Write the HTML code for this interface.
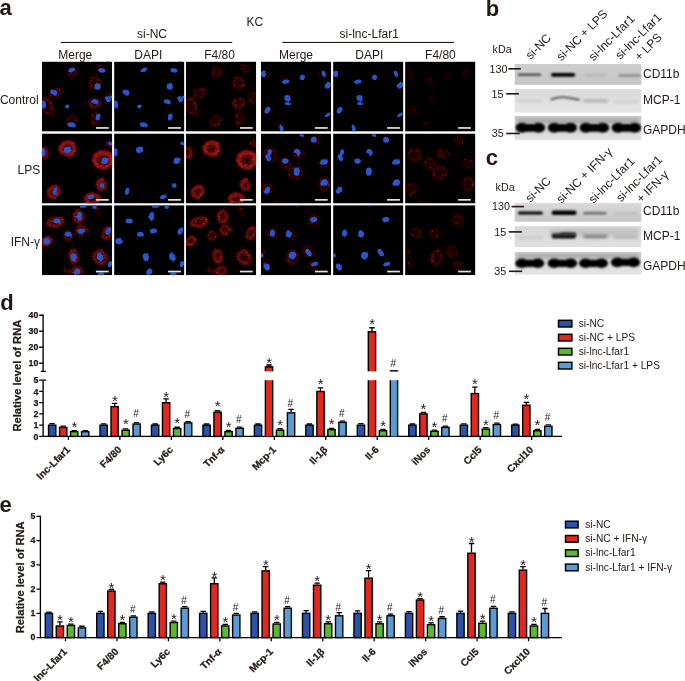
<!DOCTYPE html>
<html><head><meta charset="utf-8"><title>Figure</title>
<style>html,body{margin:0;padding:0;background:#fff}svg{display:block}text{font-family:"Liberation Sans",sans-serif;fill:#231815}.b{font-weight:bold}.pl{font-size:22px;font-weight:bold}.h{font-size:12px}.w{font-size:10.7px}.lg{font-size:10.2px}.tk{font-size:8.8px;font-weight:bold}.xl{font-size:10px;font-weight:bold}.tk,.xl,.yl{stroke:#231815;stroke-width:0.25px}.yl{font-size:11.2px;font-weight:bold}.st{font-size:15px}.hs{font-size:10px}</style></head><body>
<svg width="685" height="681" viewBox="0 0 685 681">
<rect width="685" height="681" fill="#fff"/>
<defs>
<filter id="bl" x="-30%" y="-30%" width="160%" height="160%"><feTurbulence type="fractalNoise" baseFrequency="0.11" numOctaves="2" seed="3" result="t"/><feDisplacementMap in="SourceGraphic" in2="t" scale="2.6" xChannelSelector="R" yChannelSelector="G"/><feGaussianBlur stdDeviation="0.4"/></filter>
<filter id="br" x="-30%" y="-30%" width="160%" height="160%"><feTurbulence type="fractalNoise" baseFrequency="0.09" numOctaves="2" seed="11" result="t"/><feDisplacementMap in="SourceGraphic" in2="t" scale="4.5" xChannelSelector="R" yChannelSelector="G"/><feGaussianBlur stdDeviation="0.85"/></filter>
<filter id="bd" x="-30%" y="-30%" width="160%" height="160%"><feGaussianBlur stdDeviation="0.35"/></filter>
<filter id="bb" x="-20%" y="-60%" width="140%" height="220%"><feGaussianBlur stdDeviation="0.9"/></filter>
<filter id="bb2" x="-20%" y="-60%" width="140%" height="220%"><feGaussianBlur stdDeviation="1.4"/></filter>
<radialGradient id="ring"><stop offset="0" stop-color="#a01414" stop-opacity="0.2"/><stop offset="0.35" stop-color="#a81414" stop-opacity="0.4"/><stop offset="0.72" stop-color="#b8181a" stop-opacity="0.8"/><stop offset="0.88" stop-color="#a81414" stop-opacity="0.45"/><stop offset="1" stop-color="#800c0c" stop-opacity="0"/></radialGradient>
<radialGradient id="soft"><stop offset="0" stop-color="#a01212" stop-opacity="0.75"/><stop offset="0.6" stop-color="#981010" stop-opacity="0.6"/><stop offset="1" stop-color="#800808" stop-opacity="0"/></radialGradient>
<clipPath id="cp"><rect x="0" y="0" width="70.3" height="70"/></clipPath>
<g id="n1" filter="url(#bl)" fill="#2a56cc"><ellipse cx="29.8" cy="8.8" rx="3.6" ry="2.4" transform="rotate(-30 29.8 8.8)"/><ellipse cx="59.9" cy="8.8" rx="3.6" ry="2.2" transform="rotate(10 59.9 8.8)"/><ellipse cx="55.7" cy="25.1" rx="3.1" ry="3.0" transform="rotate(0 55.7 25.1)"/><ellipse cx="11.9" cy="30.5" rx="3.6" ry="2.4" transform="rotate(15 11.9 30.5)"/><ellipse cx="65.5" cy="37.7" rx="2.6" ry="3.2" transform="rotate(-10 65.5 37.7)"/><ellipse cx="68.9" cy="35.4" rx="1.5" ry="1.8" transform="rotate(0 68.9 35.4)"/><ellipse cx="53.2" cy="40.2" rx="3.6" ry="2.4" transform="rotate(20 53.2 40.2)"/><ellipse cx="1.8" cy="43.0" rx="2.4" ry="4.0" transform="rotate(-10 1.8 43.0)"/><ellipse cx="25.1" cy="45.0" rx="2.6" ry="1.8" transform="rotate(-30 25.1 45.0)"/><ellipse cx="56.1" cy="55.0" rx="2.2" ry="4.0" transform="rotate(15 56.1 55.0)"/><ellipse cx="29.1" cy="63.0" rx="3.6" ry="2.4" transform="rotate(5 29.1 63.0)"/><ellipse cx="65.5" cy="0.0" rx="1.6" ry="0.9" transform="rotate(0 65.5 0.0)"/></g>
<g id="r1"><g filter="url(#br)"><ellipse cx="31.1" cy="10.0" rx="6.7" ry="6.2" transform="rotate(0 31.1 10.0)" fill="url(#ring)" opacity="0.35"/><ellipse cx="31.1" cy="10.0" rx="4.8" ry="4.4" transform="rotate(0 31.1 10.0)" fill="none" stroke="#d01c1e" stroke-width="1.38" opacity="0.10"/><ellipse cx="59.4" cy="7.0" rx="5.6" ry="5.0" transform="rotate(0 59.4 7.0)" fill="url(#ring)" opacity="0.29"/><ellipse cx="59.4" cy="7.0" rx="4.0" ry="3.6" transform="rotate(0 59.4 7.0)" fill="none" stroke="#d01c1e" stroke-width="1.12" opacity="0.09"/><ellipse cx="53.1" cy="21.5" rx="7.3" ry="7.8" transform="rotate(0 53.1 21.5)" fill="url(#ring)" opacity="0.37"/><ellipse cx="53.1" cy="21.5" rx="5.2" ry="5.6" transform="rotate(0 53.1 21.5)" fill="none" stroke="#d01c1e" stroke-width="1.62" opacity="0.11"/><ellipse cx="12.9" cy="31.4" rx="7.8" ry="6.7" transform="rotate(0 12.9 31.4)" fill="url(#ring)" opacity="0.35"/><ellipse cx="12.9" cy="31.4" rx="5.6" ry="4.8" transform="rotate(0 12.9 31.4)" fill="none" stroke="#d01c1e" stroke-width="1.50" opacity="0.10"/><ellipse cx="52.5" cy="41.4" rx="7.8" ry="6.2" transform="rotate(0 52.5 41.4)" fill="url(#ring)" opacity="0.44"/><ellipse cx="52.5" cy="41.4" rx="5.6" ry="4.4" transform="rotate(0 52.5 41.4)" fill="none" stroke="#d01c1e" stroke-width="1.38" opacity="0.13"/><ellipse cx="65.7" cy="36.0" rx="5.0" ry="6.7" transform="rotate(0 65.7 36.0)" fill="url(#ring)" opacity="0.29"/><ellipse cx="65.7" cy="36.0" rx="3.6" ry="4.8" transform="rotate(0 65.7 36.0)" fill="none" stroke="#d01c1e" stroke-width="1.12" opacity="0.09"/><ellipse cx="5.4" cy="44.0" rx="6.7" ry="10.1" transform="rotate(-20 5.4 44.0)" fill="url(#ring)" opacity="0.35"/><ellipse cx="5.4" cy="44.0" rx="4.8" ry="7.2" transform="rotate(-20 5.4 44.0)" fill="none" stroke="#d01c1e" stroke-width="1.50" opacity="0.10"/><ellipse cx="29.9" cy="59.5" rx="6.7" ry="6.7" transform="rotate(0 29.9 59.5)" fill="url(#ring)" opacity="0.35"/><ellipse cx="29.9" cy="59.5" rx="4.8" ry="4.8" transform="rotate(0 29.9 59.5)" fill="none" stroke="#d01c1e" stroke-width="1.50" opacity="0.10"/><ellipse cx="53.7" cy="57.0" rx="5.0" ry="8.4" transform="rotate(10 53.7 57.0)" fill="url(#ring)" opacity="0.35"/><ellipse cx="53.7" cy="57.0" rx="3.6" ry="6.0" transform="rotate(10 53.7 57.0)" fill="none" stroke="#d01c1e" stroke-width="1.12" opacity="0.10"/><ellipse cx="12.9" cy="53.4" rx="3.4" ry="3.4" transform="rotate(0 12.9 53.4)" fill="url(#ring)" opacity="0.24"/><ellipse cx="12.9" cy="53.4" rx="2.4" ry="2.4" transform="rotate(0 12.9 53.4)" fill="none" stroke="#d01c1e" stroke-width="0.90" opacity="0.07"/><ellipse cx="19.8" cy="27.6" rx="2.8" ry="2.8" transform="rotate(0 19.8 27.6)" fill="url(#ring)" opacity="0.29"/><ellipse cx="19.8" cy="27.6" rx="2.0" ry="2.0" transform="rotate(0 19.8 27.6)" fill="none" stroke="#d01c1e" stroke-width="0.90" opacity="0.09"/></g><g filter="url(#bd)" fill="#d82020"><circle cx="29.7" cy="12.6" r="0.43" opacity="0.55"/><circle cx="27.4" cy="9.2" r="0.58" opacity="0.41"/><circle cx="35.0" cy="10.9" r="0.43" opacity="0.41"/><circle cx="26.5" cy="12.2" r="0.48" opacity="0.43"/><circle cx="27.2" cy="6.4" r="0.54" opacity="0.54"/><circle cx="33.9" cy="9.6" r="0.50" opacity="0.61"/><circle cx="33.0" cy="12.2" r="0.69" opacity="0.47"/><circle cx="33.0" cy="13.7" r="0.53" opacity="0.55"/><circle cx="57.1" cy="6.4" r="0.47" opacity="0.37"/><circle cx="58.0" cy="4.3" r="0.60" opacity="0.42"/><circle cx="56.5" cy="7.8" r="0.64" opacity="0.51"/><circle cx="59.5" cy="10.3" r="0.71" opacity="0.46"/><circle cx="59.0" cy="4.3" r="0.44" opacity="0.55"/><circle cx="48.4" cy="24.4" r="0.57" opacity="0.45"/><circle cx="58.0" cy="22.8" r="0.60" opacity="0.61"/><circle cx="55.9" cy="18.5" r="0.61" opacity="0.59"/><circle cx="49.2" cy="19.2" r="0.73" opacity="0.63"/><circle cx="48.1" cy="22.4" r="0.65" opacity="0.42"/><circle cx="49.4" cy="16.2" r="0.50" opacity="0.62"/><circle cx="49.3" cy="25.1" r="0.56" opacity="0.41"/><circle cx="54.7" cy="24.6" r="0.67" opacity="0.42"/><circle cx="55.7" cy="24.4" r="0.70" opacity="0.51"/><circle cx="56.9" cy="23.8" r="0.71" opacity="0.55"/><circle cx="15.5" cy="26.6" r="0.55" opacity="0.46"/><circle cx="9.0" cy="35.6" r="0.45" opacity="0.63"/><circle cx="14.7" cy="34.4" r="0.57" opacity="0.45"/><circle cx="9.5" cy="29.5" r="0.55" opacity="0.40"/><circle cx="9.4" cy="34.6" r="0.64" opacity="0.63"/><circle cx="7.6" cy="31.0" r="0.42" opacity="0.56"/><circle cx="17.6" cy="28.4" r="0.68" opacity="0.61"/><circle cx="9.4" cy="33.8" r="0.62" opacity="0.42"/><circle cx="55.6" cy="42.4" r="0.46" opacity="0.52"/><circle cx="50.7" cy="43.6" r="0.45" opacity="0.46"/><circle cx="56.1" cy="43.5" r="0.71" opacity="0.47"/><circle cx="49.7" cy="39.5" r="0.52" opacity="0.54"/><circle cx="50.1" cy="43.5" r="0.75" opacity="0.72"/><circle cx="47.8" cy="42.2" r="0.44" opacity="0.48"/><circle cx="50.3" cy="44.1" r="0.46" opacity="0.71"/><circle cx="58.9" cy="42.1" r="0.45" opacity="0.62"/><circle cx="49.4" cy="40.7" r="0.74" opacity="0.62"/><circle cx="56.2" cy="38.1" r="0.53" opacity="0.54"/><circle cx="67.6" cy="40.3" r="0.67" opacity="0.46"/><circle cx="64.5" cy="39.0" r="0.74" opacity="0.52"/><circle cx="68.0" cy="31.9" r="0.66" opacity="0.52"/><circle cx="66.2" cy="40.2" r="0.41" opacity="0.43"/><circle cx="9.0" cy="43.7" r="0.64" opacity="0.46"/><circle cx="8.5" cy="41.1" r="0.75" opacity="0.62"/><circle cx="8.3" cy="41.3" r="0.48" opacity="0.45"/><circle cx="8.0" cy="48.0" r="0.72" opacity="0.55"/><circle cx="5.7" cy="38.3" r="0.68" opacity="0.55"/><circle cx="10.4" cy="46.0" r="0.67" opacity="0.62"/><circle cx="3.3" cy="38.2" r="0.68" opacity="0.44"/><circle cx="5.3" cy="51.1" r="0.54" opacity="0.63"/><circle cx="25.4" cy="62.7" r="0.46" opacity="0.57"/><circle cx="32.1" cy="61.8" r="0.68" opacity="0.62"/><circle cx="33.0" cy="63.6" r="0.63" opacity="0.64"/><circle cx="27.3" cy="63.0" r="0.40" opacity="0.43"/><circle cx="34.5" cy="58.7" r="0.73" opacity="0.52"/><circle cx="25.0" cy="61.6" r="0.47" opacity="0.60"/><circle cx="29.9" cy="63.1" r="0.61" opacity="0.45"/><circle cx="29.7" cy="63.5" r="0.72" opacity="0.43"/><circle cx="51.2" cy="60.7" r="0.72" opacity="0.54"/><circle cx="49.6" cy="59.6" r="0.59" opacity="0.52"/><circle cx="51.8" cy="56.1" r="0.46" opacity="0.50"/><circle cx="57.4" cy="57.8" r="0.57" opacity="0.44"/><circle cx="54.1" cy="51.6" r="0.58" opacity="0.47"/><circle cx="50.6" cy="54.3" r="0.60" opacity="0.42"/><circle cx="53.0" cy="61.4" r="0.58" opacity="0.58"/><circle cx="50.7" cy="54.1" r="0.56" opacity="0.62"/><circle cx="11.3" cy="52.0" r="0.64" opacity="0.40"/><circle cx="10.8" cy="54.0" r="0.73" opacity="0.40"/><circle cx="12.1" cy="50.9" r="0.49" opacity="0.48"/><circle cx="17.7" cy="26.8" r="0.45" opacity="0.52"/><circle cx="21.0" cy="28.8" r="0.48" opacity="0.37"/></g></g>
<g id="n2" filter="url(#bl)" fill="#2a56cc"><ellipse cx="25.6" cy="16.7" rx="3.7" ry="2.6" transform="rotate(-15 25.6 16.7)"/><ellipse cx="1.3" cy="18.8" rx="2.2" ry="4.0" transform="rotate(0 1.3 18.8)"/><ellipse cx="62.8" cy="27.2" rx="3.1" ry="3.3" transform="rotate(0 62.8 27.2)"/><ellipse cx="68.3" cy="10.0" rx="2.2" ry="1.7" transform="rotate(20 68.3 10.0)"/><ellipse cx="60.3" cy="51.5" rx="2.8" ry="2.6" transform="rotate(-40 60.3 51.5)"/><ellipse cx="13.0" cy="58.1" rx="2.1" ry="3.2" transform="rotate(10 13.0 58.1)"/><ellipse cx="49.2" cy="63.4" rx="3.3" ry="2.1" transform="rotate(-20 49.2 63.4)"/></g>
<g id="r2"><g filter="url(#br)"><ellipse cx="26.0" cy="14.8" rx="9.5" ry="9.0" transform="rotate(0 26.0 14.8)" fill="url(#ring)" opacity="0.97"/><ellipse cx="26.0" cy="14.8" rx="6.8" ry="6.4" transform="rotate(0 26.0 14.8)" fill="none" stroke="#d01c1e" stroke-width="2.00" opacity="0.48"/><ellipse cx="1.5" cy="18.8" rx="6.7" ry="6.7" transform="rotate(0 1.5 18.8)" fill="url(#ring)" opacity="0.71"/><ellipse cx="1.5" cy="18.8" rx="4.8" ry="4.8" transform="rotate(0 1.5 18.8)" fill="none" stroke="#d01c1e" stroke-width="1.50" opacity="0.35"/><ellipse cx="61.1" cy="26.4" rx="11.8" ry="11.2" transform="rotate(0 61.1 26.4)" fill="url(#ring)" opacity="0.91"/><ellipse cx="61.1" cy="26.4" rx="8.4" ry="8.0" transform="rotate(0 61.1 26.4)" fill="none" stroke="#d01c1e" stroke-width="2.50" opacity="0.46"/><ellipse cx="68.0" cy="10.5" rx="4.5" ry="5.0" transform="rotate(0 68.0 10.5)" fill="url(#soft)" opacity="0.50"/><ellipse cx="68.0" cy="10.5" rx="3.2" ry="3.6" transform="rotate(0 68.0 10.5)" fill="none" stroke="#d01c1e" stroke-width="1.00" opacity="0.15"/><ellipse cx="59.5" cy="50.8" rx="5.4" ry="7.3" transform="rotate(10 59.5 50.8)" fill="url(#ring)" opacity="1.00"/><ellipse cx="59.5" cy="50.8" rx="3.8" ry="5.2" transform="rotate(10 59.5 50.8)" fill="none" stroke="#d01c1e" stroke-width="1.20" opacity="0.50"/><ellipse cx="12.2" cy="58.4" rx="7.8" ry="7.8" transform="rotate(0 12.2 58.4)" fill="url(#ring)" opacity="0.97"/><ellipse cx="12.2" cy="58.4" rx="5.6" ry="5.6" transform="rotate(0 12.2 58.4)" fill="none" stroke="#d01c1e" stroke-width="1.75" opacity="0.48"/><ellipse cx="50.5" cy="65.2" rx="9.5" ry="6.2" transform="rotate(0 50.5 65.2)" fill="url(#ring)" opacity="0.97"/><ellipse cx="50.5" cy="65.2" rx="6.8" ry="4.4" transform="rotate(0 50.5 65.2)" fill="none" stroke="#d01c1e" stroke-width="1.38" opacity="0.48"/></g><g filter="url(#bd)" fill="#d82020"><circle cx="32.0" cy="17.6" r="0.71" opacity="0.95"/><circle cx="29.9" cy="20.1" r="0.45" opacity="0.95"/><circle cx="31.9" cy="9.8" r="0.73" opacity="0.95"/><circle cx="21.3" cy="18.1" r="0.69" opacity="0.95"/><circle cx="29.0" cy="19.3" r="0.52" opacity="0.95"/><circle cx="27.7" cy="19.4" r="0.41" opacity="0.95"/><circle cx="20.6" cy="13.0" r="0.52" opacity="0.84"/><circle cx="21.7" cy="10.8" r="0.74" opacity="0.87"/><circle cx="27.9" cy="7.5" r="0.49" opacity="0.90"/><circle cx="32.9" cy="16.5" r="0.45" opacity="0.95"/><circle cx="19.2" cy="18.2" r="0.49" opacity="0.95"/><circle cx="30.6" cy="20.7" r="0.65" opacity="0.95"/><circle cx="29.4" cy="16.8" r="0.55" opacity="0.95"/><circle cx="33.0" cy="18.0" r="0.68" opacity="0.95"/><circle cx="6.1" cy="21.4" r="0.70" opacity="0.68"/><circle cx="-2.1" cy="19.9" r="0.72" opacity="0.92"/><circle cx="1.2" cy="21.9" r="0.48" opacity="0.91"/><circle cx="4.0" cy="20.8" r="0.47" opacity="0.67"/><circle cx="0.1" cy="22.1" r="0.50" opacity="0.95"/><circle cx="55.4" cy="26.4" r="0.41" opacity="0.95"/><circle cx="61.1" cy="31.0" r="0.59" opacity="0.95"/><circle cx="63.8" cy="32.8" r="0.44" opacity="0.95"/><circle cx="64.0" cy="20.4" r="0.69" opacity="0.95"/><circle cx="55.3" cy="30.8" r="0.74" opacity="0.95"/><circle cx="56.1" cy="33.6" r="0.62" opacity="0.95"/><circle cx="55.7" cy="29.9" r="0.45" opacity="0.82"/><circle cx="68.9" cy="29.9" r="0.46" opacity="0.95"/><circle cx="69.0" cy="30.8" r="0.63" opacity="0.95"/><circle cx="59.9" cy="32.0" r="0.56" opacity="0.95"/><circle cx="65.0" cy="32.0" r="0.74" opacity="0.95"/><circle cx="68.6" cy="25.2" r="0.74" opacity="0.94"/><circle cx="58.7" cy="32.2" r="0.53" opacity="0.79"/><circle cx="53.8" cy="27.5" r="0.58" opacity="0.92"/><circle cx="67.2" cy="26.6" r="0.54" opacity="0.84"/><circle cx="65.8" cy="27.6" r="0.48" opacity="0.95"/><circle cx="54.7" cy="22.7" r="0.63" opacity="0.95"/><circle cx="59.1" cy="17.7" r="0.51" opacity="0.95"/><circle cx="66.6" cy="25.9" r="0.63" opacity="0.95"/><circle cx="69.9" cy="28.8" r="0.62" opacity="0.95"/><circle cx="67.7" cy="6.7" r="0.58" opacity="0.55"/><circle cx="64.5" cy="10.4" r="0.69" opacity="0.78"/><circle cx="64.9" cy="8.5" r="0.64" opacity="0.74"/><circle cx="68.2" cy="12.6" r="0.53" opacity="0.55"/><circle cx="62.1" cy="54.8" r="0.62" opacity="0.95"/><circle cx="57.5" cy="46.7" r="0.40" opacity="0.95"/><circle cx="61.5" cy="46.0" r="0.59" opacity="0.95"/><circle cx="58.7" cy="48.0" r="0.49" opacity="0.95"/><circle cx="61.7" cy="52.9" r="0.47" opacity="0.95"/><circle cx="60.3" cy="44.8" r="0.53" opacity="0.95"/><circle cx="55.7" cy="50.8" r="0.62" opacity="0.95"/><circle cx="58.5" cy="48.1" r="0.49" opacity="0.95"/><circle cx="12.0" cy="54.2" r="0.40" opacity="0.95"/><circle cx="16.0" cy="59.9" r="0.64" opacity="0.95"/><circle cx="10.3" cy="54.7" r="0.56" opacity="0.95"/><circle cx="8.7" cy="59.1" r="0.47" opacity="0.95"/><circle cx="18.6" cy="57.5" r="0.56" opacity="0.84"/><circle cx="15.0" cy="52.5" r="0.49" opacity="0.95"/><circle cx="13.8" cy="64.7" r="0.60" opacity="0.95"/><circle cx="15.3" cy="62.3" r="0.45" opacity="0.95"/><circle cx="14.3" cy="53.9" r="0.65" opacity="0.95"/><circle cx="12.9" cy="64.6" r="0.41" opacity="0.95"/><circle cx="17.1" cy="58.5" r="0.51" opacity="0.95"/><circle cx="15.0" cy="61.8" r="0.69" opacity="0.95"/><circle cx="18.0" cy="58.5" r="0.44" opacity="0.95"/><circle cx="17.3" cy="55.9" r="0.50" opacity="0.95"/><circle cx="46.7" cy="67.8" r="0.61" opacity="0.95"/><circle cx="46.9" cy="68.0" r="0.42" opacity="0.95"/><circle cx="56.4" cy="68.0" r="0.73" opacity="0.95"/><circle cx="50.5" cy="68.4" r="0.47" opacity="0.95"/><circle cx="45.0" cy="68.8" r="0.68" opacity="0.95"/><circle cx="45.3" cy="61.5" r="0.59" opacity="0.95"/><circle cx="49.7" cy="62.6" r="0.56" opacity="0.95"/><circle cx="50.6" cy="61.0" r="0.42" opacity="0.95"/><circle cx="54.4" cy="63.9" r="0.52" opacity="0.95"/><circle cx="48.4" cy="69.5" r="0.49" opacity="0.95"/></g></g>
<g id="n3" filter="url(#bl)" fill="#2a56cc"><ellipse cx="41.7" cy="1.0" rx="3.2" ry="1.5" transform="rotate(0 41.7 1.0)"/><ellipse cx="52.7" cy="1.5" rx="2.2" ry="2.2" transform="rotate(0 52.7 1.5)"/><ellipse cx="37.5" cy="10.7" rx="2.4" ry="3.8" transform="rotate(5 37.5 10.7)"/><ellipse cx="15.1" cy="15.7" rx="3.7" ry="2.5" transform="rotate(0 15.1 15.7)"/><ellipse cx="39.4" cy="25.7" rx="3.6" ry="2.5" transform="rotate(0 39.4 25.7)"/><ellipse cx="26.4" cy="29.1" rx="3.6" ry="2.5" transform="rotate(0 26.4 29.1)"/><ellipse cx="66.2" cy="25.7" rx="2.5" ry="4.0" transform="rotate(20 66.2 25.7)"/><ellipse cx="5.0" cy="36.4" rx="3.6" ry="2.6" transform="rotate(-10 5.0 36.4)"/><ellipse cx="31.3" cy="52.1" rx="2.5" ry="4.0" transform="rotate(-15 31.3 52.1)"/><ellipse cx="58.6" cy="51.2" rx="3.6" ry="4.2" transform="rotate(-10 58.6 51.2)"/><ellipse cx="68.0" cy="59.0" rx="2.0" ry="3.2" transform="rotate(20 68.0 59.0)"/><ellipse cx="35.2" cy="66.2" rx="3.1" ry="3.0" transform="rotate(0 35.2 66.2)"/><ellipse cx="59.3" cy="68.6" rx="3.4" ry="1.6" transform="rotate(0 59.3 68.6)"/></g>
<g id="r3"><g filter="url(#br)"><ellipse cx="37.0" cy="11.5" rx="6.7" ry="8.4" transform="rotate(0 37.0 11.5)" fill="url(#ring)" opacity="0.68"/><ellipse cx="37.0" cy="11.5" rx="4.8" ry="6.0" transform="rotate(0 37.0 11.5)" fill="none" stroke="#d01c1e" stroke-width="1.50" opacity="0.34"/><ellipse cx="14.0" cy="17.0" rx="10.1" ry="6.2" transform="rotate(-10 14.0 17.0)" fill="url(#ring)" opacity="0.71"/><ellipse cx="14.0" cy="17.0" rx="7.2" ry="4.4" transform="rotate(-10 14.0 17.0)" fill="none" stroke="#d01c1e" stroke-width="1.38" opacity="0.35"/><ellipse cx="39.4" cy="25.0" rx="6.7" ry="5.6" transform="rotate(0 39.4 25.0)" fill="url(#ring)" opacity="0.68"/><ellipse cx="39.4" cy="25.0" rx="4.8" ry="4.0" transform="rotate(0 39.4 25.0)" fill="none" stroke="#d01c1e" stroke-width="1.25" opacity="0.34"/><ellipse cx="26.4" cy="30.5" rx="5.6" ry="5.6" transform="rotate(0 26.4 30.5)" fill="url(#ring)" opacity="0.53"/><ellipse cx="26.4" cy="30.5" rx="4.0" ry="4.0" transform="rotate(0 26.4 30.5)" fill="none" stroke="#d01c1e" stroke-width="1.25" opacity="0.27"/><ellipse cx="65.0" cy="28.0" rx="5.6" ry="8.4" transform="rotate(20 65.0 28.0)" fill="url(#ring)" opacity="0.68"/><ellipse cx="65.0" cy="28.0" rx="4.0" ry="6.0" transform="rotate(20 65.0 28.0)" fill="none" stroke="#d01c1e" stroke-width="1.25" opacity="0.34"/><ellipse cx="5.0" cy="36.4" rx="7.3" ry="5.6" transform="rotate(-10 5.0 36.4)" fill="url(#ring)" opacity="0.85"/><ellipse cx="5.0" cy="36.4" rx="5.2" ry="4.0" transform="rotate(-10 5.0 36.4)" fill="none" stroke="#d01c1e" stroke-width="1.25" opacity="0.42"/><ellipse cx="31.0" cy="51.0" rx="6.2" ry="9.0" transform="rotate(-15 31.0 51.0)" fill="url(#ring)" opacity="0.71"/><ellipse cx="31.0" cy="51.0" rx="4.4" ry="6.4" transform="rotate(-15 31.0 51.0)" fill="none" stroke="#d01c1e" stroke-width="1.38" opacity="0.35"/><ellipse cx="58.6" cy="52.0" rx="8.4" ry="9.5" transform="rotate(-10 58.6 52.0)" fill="url(#ring)" opacity="0.62"/><ellipse cx="58.6" cy="52.0" rx="6.0" ry="6.8" transform="rotate(-10 58.6 52.0)" fill="none" stroke="#d01c1e" stroke-width="1.88" opacity="0.31"/><ellipse cx="35.0" cy="66.0" rx="6.7" ry="5.0" transform="rotate(0 35.0 66.0)" fill="url(#ring)" opacity="0.62"/><ellipse cx="35.0" cy="66.0" rx="4.8" ry="3.6" transform="rotate(0 35.0 66.0)" fill="none" stroke="#d01c1e" stroke-width="1.12" opacity="0.31"/><ellipse cx="26.0" cy="65.0" rx="6.7" ry="2.8" transform="rotate(10 26.0 65.0)" fill="url(#soft)" opacity="0.50"/><ellipse cx="26.0" cy="65.0" rx="4.8" ry="2.0" transform="rotate(10 26.0 65.0)" fill="none" stroke="#d01c1e" stroke-width="0.90" opacity="0.15"/><ellipse cx="55.0" cy="6.0" rx="3.4" ry="7.8" transform="rotate(-25 55.0 6.0)" fill="url(#soft)" opacity="0.35"/><ellipse cx="55.0" cy="6.0" rx="2.4" ry="5.6" transform="rotate(-25 55.0 6.0)" fill="none" stroke="#d01c1e" stroke-width="0.90" opacity="0.10"/></g><g filter="url(#bd)" fill="#d82020"><circle cx="35.0" cy="7.8" r="0.54" opacity="0.89"/><circle cx="38.6" cy="15.0" r="0.72" opacity="0.72"/><circle cx="33.6" cy="11.6" r="0.75" opacity="0.95"/><circle cx="34.0" cy="12.7" r="0.43" opacity="0.72"/><circle cx="35.4" cy="14.6" r="0.49" opacity="0.74"/><circle cx="32.1" cy="8.7" r="0.54" opacity="0.95"/><circle cx="33.3" cy="14.3" r="0.52" opacity="0.81"/><circle cx="40.3" cy="13.2" r="0.44" opacity="0.95"/><circle cx="32.4" cy="11.4" r="0.48" opacity="0.95"/><circle cx="36.5" cy="15.8" r="0.56" opacity="0.82"/><circle cx="21.2" cy="14.3" r="0.41" opacity="0.95"/><circle cx="21.1" cy="16.6" r="0.57" opacity="0.95"/><circle cx="10.4" cy="16.3" r="0.72" opacity="0.84"/><circle cx="16.8" cy="12.1" r="0.49" opacity="0.95"/><circle cx="17.9" cy="18.2" r="0.64" opacity="0.91"/><circle cx="20.4" cy="14.2" r="0.67" opacity="0.95"/><circle cx="8.0" cy="19.1" r="0.67" opacity="0.67"/><circle cx="15.7" cy="21.7" r="0.51" opacity="0.95"/><circle cx="17.9" cy="18.6" r="0.64" opacity="0.95"/><circle cx="17.6" cy="18.1" r="0.60" opacity="0.91"/><circle cx="10.5" cy="19.6" r="0.40" opacity="0.95"/><circle cx="12.7" cy="20.8" r="0.63" opacity="0.95"/><circle cx="42.5" cy="22.7" r="0.49" opacity="0.74"/><circle cx="44.1" cy="24.0" r="0.41" opacity="0.77"/><circle cx="34.7" cy="25.0" r="0.49" opacity="0.83"/><circle cx="36.7" cy="21.0" r="0.41" opacity="0.73"/><circle cx="37.3" cy="27.8" r="0.47" opacity="0.95"/><circle cx="40.8" cy="21.1" r="0.47" opacity="0.87"/><circle cx="43.0" cy="24.4" r="0.48" opacity="0.95"/><circle cx="40.3" cy="29.1" r="0.73" opacity="0.77"/><circle cx="23.7" cy="30.6" r="0.55" opacity="0.60"/><circle cx="24.1" cy="26.5" r="0.54" opacity="0.58"/><circle cx="27.5" cy="35.1" r="0.42" opacity="0.57"/><circle cx="29.4" cy="31.7" r="0.71" opacity="0.85"/><circle cx="25.9" cy="25.8" r="0.52" opacity="0.87"/><circle cx="28.2" cy="34.7" r="0.41" opacity="0.80"/><circle cx="64.9" cy="23.6" r="0.52" opacity="0.80"/><circle cx="65.0" cy="31.2" r="0.52" opacity="0.76"/><circle cx="67.7" cy="27.8" r="0.47" opacity="0.95"/><circle cx="60.8" cy="31.8" r="0.55" opacity="0.95"/><circle cx="67.5" cy="30.6" r="0.72" opacity="0.80"/><circle cx="64.5" cy="32.6" r="0.41" opacity="0.95"/><circle cx="60.4" cy="30.0" r="0.41" opacity="0.95"/><circle cx="66.9" cy="29.5" r="0.49" opacity="0.95"/><circle cx="4.1" cy="32.0" r="0.50" opacity="0.95"/><circle cx="9.5" cy="34.6" r="0.65" opacity="0.90"/><circle cx="3.9" cy="39.3" r="0.66" opacity="0.75"/><circle cx="8.9" cy="33.8" r="0.41" opacity="0.95"/><circle cx="6.0" cy="39.7" r="0.73" opacity="0.95"/><circle cx="2.5" cy="38.7" r="0.57" opacity="0.95"/><circle cx="7.9" cy="34.7" r="0.66" opacity="0.95"/><circle cx="6.7" cy="32.3" r="0.51" opacity="0.95"/><circle cx="30.8" cy="55.8" r="0.43" opacity="0.95"/><circle cx="34.0" cy="56.7" r="0.42" opacity="0.77"/><circle cx="35.1" cy="51.2" r="0.74" opacity="0.81"/><circle cx="33.4" cy="45.1" r="0.43" opacity="0.78"/><circle cx="34.9" cy="53.3" r="0.56" opacity="0.95"/><circle cx="32.7" cy="56.0" r="0.64" opacity="0.95"/><circle cx="29.1" cy="44.3" r="0.44" opacity="0.95"/><circle cx="31.7" cy="46.7" r="0.53" opacity="0.93"/><circle cx="29.6" cy="46.8" r="0.49" opacity="0.77"/><circle cx="35.2" cy="55.9" r="0.51" opacity="0.93"/><circle cx="53.9" cy="57.8" r="0.48" opacity="0.80"/><circle cx="59.6" cy="45.6" r="0.44" opacity="0.95"/><circle cx="52.5" cy="54.2" r="0.72" opacity="0.95"/><circle cx="63.1" cy="52.5" r="0.47" opacity="0.64"/><circle cx="63.8" cy="50.0" r="0.53" opacity="0.95"/><circle cx="61.2" cy="47.2" r="0.67" opacity="0.70"/><circle cx="61.9" cy="50.0" r="0.62" opacity="0.84"/><circle cx="60.5" cy="57.0" r="0.47" opacity="0.65"/><circle cx="59.5" cy="58.3" r="0.47" opacity="0.87"/><circle cx="63.2" cy="51.6" r="0.46" opacity="0.88"/><circle cx="57.8" cy="56.5" r="0.59" opacity="0.93"/><circle cx="62.3" cy="53.0" r="0.59" opacity="0.76"/><circle cx="33.1" cy="64.3" r="0.64" opacity="0.66"/><circle cx="32.0" cy="67.4" r="0.73" opacity="0.72"/><circle cx="33.3" cy="69.0" r="0.55" opacity="0.74"/><circle cx="38.7" cy="62.8" r="0.47" opacity="0.74"/><circle cx="34.5" cy="63.5" r="0.72" opacity="0.59"/><circle cx="30.4" cy="67.8" r="0.71" opacity="0.76"/><circle cx="22.9" cy="64.8" r="0.59" opacity="0.51"/><circle cx="22.9" cy="62.7" r="0.62" opacity="0.53"/><circle cx="22.9" cy="65.8" r="0.50" opacity="0.55"/><circle cx="20.7" cy="63.8" r="0.57" opacity="0.54"/><circle cx="28.2" cy="63.2" r="0.44" opacity="0.57"/><circle cx="56.4" cy="2.8" r="0.42" opacity="0.51"/><circle cx="55.7" cy="3.4" r="0.62" opacity="0.62"/><circle cx="54.3" cy="2.7" r="0.48" opacity="0.59"/></g></g>
<g id="n4" filter="url(#bl)" fill="#2a56cc"><ellipse cx="3.0" cy="12.3" rx="3.0" ry="3.2" transform="rotate(-30 3.0 12.3)"/><ellipse cx="24.7" cy="20.1" rx="3.7" ry="2.1" transform="rotate(-10 24.7 20.1)"/><ellipse cx="41.4" cy="15.1" rx="2.6" ry="3.1" transform="rotate(10 41.4 15.1)"/><ellipse cx="62.8" cy="12.6" rx="2.0" ry="3.5" transform="rotate(-10 62.8 12.6)"/><ellipse cx="66.8" cy="23.5" rx="3.0" ry="3.6" transform="rotate(20 66.8 23.5)"/><ellipse cx="26.4" cy="36.4" rx="3.1" ry="3.0" transform="rotate(0 26.4 36.4)"/><ellipse cx="27.2" cy="41.8" rx="3.2" ry="1.6" transform="rotate(0 27.2 41.8)"/><ellipse cx="6.5" cy="48.6" rx="2.4" ry="3.7" transform="rotate(30 6.5 48.6)"/><ellipse cx="66.8" cy="53.4" rx="3.2" ry="1.6" transform="rotate(-35 66.8 53.4)"/><ellipse cx="20.6" cy="66.5" rx="2.0" ry="3.6" transform="rotate(-10 20.6 66.5)"/></g>
<g id="r4"><g filter="url(#br)"><ellipse cx="5.0" cy="13.0" rx="5.6" ry="5.6" transform="rotate(0 5.0 13.0)" fill="url(#ring)" opacity="0.17"/><ellipse cx="5.0" cy="13.0" rx="4.0" ry="4.0" transform="rotate(0 5.0 13.0)" fill="none" stroke="#d01c1e" stroke-width="1.25" opacity="0.05"/><ellipse cx="25.0" cy="19.0" rx="5.6" ry="4.5" transform="rotate(0 25.0 19.0)" fill="url(#ring)" opacity="0.17"/><ellipse cx="25.0" cy="19.0" rx="4.0" ry="3.2" transform="rotate(0 25.0 19.0)" fill="none" stroke="#d01c1e" stroke-width="1.00" opacity="0.05"/><ellipse cx="42.5" cy="15.0" rx="4.5" ry="4.5" transform="rotate(0 42.5 15.0)" fill="url(#ring)" opacity="0.14"/><ellipse cx="42.5" cy="15.0" rx="3.2" ry="3.2" transform="rotate(0 42.5 15.0)" fill="none" stroke="#d01c1e" stroke-width="1.00" opacity="0.04"/><ellipse cx="60.5" cy="11.0" rx="4.5" ry="4.5" transform="rotate(0 60.5 11.0)" fill="url(#ring)" opacity="0.20"/><ellipse cx="60.5" cy="11.0" rx="3.2" ry="3.2" transform="rotate(0 60.5 11.0)" fill="none" stroke="#d01c1e" stroke-width="1.00" opacity="0.06"/><ellipse cx="27.5" cy="38.0" rx="5.6" ry="6.2" transform="rotate(0 27.5 38.0)" fill="url(#ring)" opacity="0.14"/><ellipse cx="27.5" cy="38.0" rx="4.0" ry="4.4" transform="rotate(0 27.5 38.0)" fill="none" stroke="#d01c1e" stroke-width="1.25" opacity="0.04"/><ellipse cx="7.5" cy="49.5" rx="5.0" ry="5.6" transform="rotate(0 7.5 49.5)" fill="url(#ring)" opacity="0.16"/><ellipse cx="7.5" cy="49.5" rx="3.6" ry="4.0" transform="rotate(0 7.5 49.5)" fill="none" stroke="#d01c1e" stroke-width="1.12" opacity="0.05"/><ellipse cx="21.0" cy="64.0" rx="3.9" ry="5.0" transform="rotate(0 21.0 64.0)" fill="url(#ring)" opacity="0.20"/><ellipse cx="21.0" cy="64.0" rx="2.8" ry="3.6" transform="rotate(0 21.0 64.0)" fill="none" stroke="#d01c1e" stroke-width="0.90" opacity="0.06"/></g><g filter="url(#bd)" fill="#d82020"><circle cx="1.4" cy="15.5" r="0.46" opacity="0.37"/><circle cx="5.6" cy="16.2" r="0.53" opacity="0.33"/><circle cx="7.1" cy="15.0" r="0.71" opacity="0.36"/><circle cx="28.5" cy="19.7" r="0.41" opacity="0.36"/><circle cx="26.3" cy="17.3" r="0.59" opacity="0.34"/><circle cx="22.9" cy="17.3" r="0.60" opacity="0.32"/><circle cx="39.7" cy="16.4" r="0.55" opacity="0.29"/><circle cx="45.5" cy="15.4" r="0.48" opacity="0.30"/><circle cx="60.8" cy="7.7" r="0.46" opacity="0.35"/><circle cx="58.5" cy="11.3" r="0.55" opacity="0.31"/><circle cx="62.8" cy="12.5" r="0.41" opacity="0.36"/><circle cx="25.9" cy="36.0" r="0.67" opacity="0.32"/><circle cx="25.1" cy="37.8" r="0.53" opacity="0.30"/><circle cx="9.7" cy="48.7" r="0.75" opacity="0.36"/><circle cx="7.1" cy="45.2" r="0.74" opacity="0.28"/><circle cx="17.8" cy="64.2" r="0.46" opacity="0.42"/><circle cx="21.8" cy="60.0" r="0.52" opacity="0.30"/><circle cx="21.1" cy="61.6" r="0.50" opacity="0.42"/></g></g>
<g id="n5" filter="url(#bl)" fill="#2a56cc"><ellipse cx="41.4" cy="1.9" rx="1.6" ry="1.6" transform="rotate(0 41.4 1.9)"/><ellipse cx="53.0" cy="6.3" rx="3.0" ry="3.0" transform="rotate(0 53.0 6.3)"/><ellipse cx="8.8" cy="18.8" rx="2.1" ry="3.0" transform="rotate(10 8.8 18.8)"/><ellipse cx="7.2" cy="24.2" rx="2.5" ry="3.7" transform="rotate(-20 7.2 24.2)"/><ellipse cx="36.4" cy="18.8" rx="3.0" ry="3.6" transform="rotate(-30 36.4 18.8)"/><ellipse cx="24.5" cy="27.6" rx="3.2" ry="2.6" transform="rotate(0 24.5 27.6)"/><ellipse cx="63.3" cy="28.5" rx="3.7" ry="2.7" transform="rotate(-5 63.3 28.5)"/><ellipse cx="35.8" cy="37.7" rx="3.0" ry="3.6" transform="rotate(0 35.8 37.7)"/><ellipse cx="63.7" cy="49.0" rx="3.2" ry="3.2" transform="rotate(0 63.7 49.0)"/><ellipse cx="6.5" cy="56.7" rx="2.6" ry="3.6" transform="rotate(20 6.5 56.7)"/></g>
<g id="r5"><g filter="url(#br)"><ellipse cx="54.5" cy="7.0" rx="6.2" ry="5.6" transform="rotate(0 54.5 7.0)" fill="url(#ring)" opacity="0.24"/><ellipse cx="54.5" cy="7.0" rx="4.4" ry="4.0" transform="rotate(0 54.5 7.0)" fill="none" stroke="#d01c1e" stroke-width="1.25" opacity="0.07"/><ellipse cx="10.0" cy="21.0" rx="7.8" ry="7.8" transform="rotate(0 10.0 21.0)" fill="url(#ring)" opacity="0.31"/><ellipse cx="10.0" cy="21.0" rx="5.6" ry="5.6" transform="rotate(0 10.0 21.0)" fill="none" stroke="#d01c1e" stroke-width="1.75" opacity="0.09"/><ellipse cx="38.0" cy="20.0" rx="7.8" ry="6.2" transform="rotate(0 38.0 20.0)" fill="url(#ring)" opacity="0.31"/><ellipse cx="38.0" cy="20.0" rx="5.6" ry="4.4" transform="rotate(0 38.0 20.0)" fill="none" stroke="#d01c1e" stroke-width="1.38" opacity="0.09"/><ellipse cx="24.5" cy="29.5" rx="6.2" ry="7.3" transform="rotate(0 24.5 29.5)" fill="url(#ring)" opacity="0.31"/><ellipse cx="24.5" cy="29.5" rx="4.4" ry="5.2" transform="rotate(0 24.5 29.5)" fill="none" stroke="#d01c1e" stroke-width="1.38" opacity="0.09"/><ellipse cx="63.0" cy="29.5" rx="6.7" ry="6.2" transform="rotate(0 63.0 29.5)" fill="url(#ring)" opacity="0.26"/><ellipse cx="63.0" cy="29.5" rx="4.8" ry="4.4" transform="rotate(0 63.0 29.5)" fill="none" stroke="#d01c1e" stroke-width="1.38" opacity="0.08"/><ellipse cx="35.0" cy="39.5" rx="9.0" ry="7.8" transform="rotate(0 35.0 39.5)" fill="url(#ring)" opacity="0.31"/><ellipse cx="35.0" cy="39.5" rx="6.4" ry="5.6" transform="rotate(0 35.0 39.5)" fill="none" stroke="#d01c1e" stroke-width="1.75" opacity="0.09"/><ellipse cx="63.5" cy="51.0" rx="7.3" ry="9.0" transform="rotate(0 63.5 51.0)" fill="url(#ring)" opacity="0.32"/><ellipse cx="63.5" cy="51.0" rx="5.2" ry="6.4" transform="rotate(0 63.5 51.0)" fill="none" stroke="#d01c1e" stroke-width="1.62" opacity="0.10"/><ellipse cx="6.0" cy="55.5" rx="6.7" ry="7.8" transform="rotate(0 6.0 55.5)" fill="url(#ring)" opacity="0.29"/><ellipse cx="6.0" cy="55.5" rx="4.8" ry="5.6" transform="rotate(0 6.0 55.5)" fill="none" stroke="#d01c1e" stroke-width="1.50" opacity="0.09"/><ellipse cx="18.0" cy="68.5" rx="4.5" ry="1.7" transform="rotate(0 18.0 68.5)" fill="url(#ring)" opacity="0.24"/><ellipse cx="18.0" cy="68.5" rx="3.2" ry="1.2" transform="rotate(0 18.0 68.5)" fill="none" stroke="#d01c1e" stroke-width="0.90" opacity="0.07"/></g><g filter="url(#bd)" fill="#d82020"><circle cx="55.7" cy="4.6" r="0.72" opacity="0.40"/><circle cx="55.3" cy="9.8" r="0.51" opacity="0.40"/><circle cx="57.4" cy="7.6" r="0.73" opacity="0.35"/><circle cx="52.4" cy="2.9" r="0.67" opacity="0.35"/><circle cx="57.5" cy="9.4" r="0.53" opacity="0.42"/><circle cx="13.6" cy="17.4" r="0.71" opacity="0.49"/><circle cx="15.2" cy="25.0" r="0.54" opacity="0.50"/><circle cx="11.2" cy="17.1" r="0.60" opacity="0.58"/><circle cx="6.3" cy="25.5" r="0.46" opacity="0.46"/><circle cx="9.9" cy="17.7" r="0.49" opacity="0.54"/><circle cx="5.8" cy="15.9" r="0.63" opacity="0.49"/><circle cx="8.8" cy="23.9" r="0.45" opacity="0.37"/><circle cx="6.5" cy="17.9" r="0.71" opacity="0.48"/><circle cx="12.7" cy="23.9" r="0.41" opacity="0.51"/><circle cx="14.4" cy="21.1" r="0.53" opacity="0.39"/><circle cx="38.8" cy="24.0" r="0.47" opacity="0.49"/><circle cx="34.6" cy="17.3" r="0.73" opacity="0.40"/><circle cx="38.1" cy="22.9" r="0.62" opacity="0.39"/><circle cx="42.1" cy="16.7" r="0.49" opacity="0.45"/><circle cx="43.4" cy="20.3" r="0.52" opacity="0.49"/><circle cx="35.1" cy="17.1" r="0.66" opacity="0.57"/><circle cx="38.1" cy="25.0" r="0.59" opacity="0.38"/><circle cx="34.7" cy="21.7" r="0.67" opacity="0.38"/><circle cx="43.1" cy="20.3" r="0.45" opacity="0.57"/><circle cx="25.8" cy="34.2" r="0.62" opacity="0.48"/><circle cx="25.6" cy="26.3" r="0.51" opacity="0.43"/><circle cx="29.2" cy="31.2" r="0.65" opacity="0.54"/><circle cx="29.3" cy="29.7" r="0.56" opacity="0.53"/><circle cx="24.3" cy="25.1" r="0.44" opacity="0.42"/><circle cx="24.8" cy="32.5" r="0.66" opacity="0.44"/><circle cx="22.9" cy="24.2" r="0.49" opacity="0.52"/><circle cx="21.0" cy="28.1" r="0.58" opacity="0.54"/><circle cx="62.6" cy="33.7" r="0.48" opacity="0.51"/><circle cx="65.0" cy="27.8" r="0.48" opacity="0.38"/><circle cx="62.8" cy="24.4" r="0.51" opacity="0.47"/><circle cx="65.7" cy="27.2" r="0.72" opacity="0.38"/><circle cx="59.7" cy="26.3" r="0.74" opacity="0.45"/><circle cx="28.2" cy="40.7" r="0.70" opacity="0.52"/><circle cx="29.0" cy="41.7" r="0.51" opacity="0.49"/><circle cx="36.4" cy="44.7" r="0.72" opacity="0.38"/><circle cx="37.3" cy="42.1" r="0.73" opacity="0.39"/><circle cx="32.7" cy="42.5" r="0.41" opacity="0.37"/><circle cx="32.8" cy="34.5" r="0.66" opacity="0.52"/><circle cx="40.5" cy="41.6" r="0.69" opacity="0.45"/><circle cx="38.0" cy="33.8" r="0.70" opacity="0.38"/><circle cx="41.3" cy="36.2" r="0.47" opacity="0.39"/><circle cx="37.9" cy="41.6" r="0.68" opacity="0.55"/><circle cx="59.8" cy="45.8" r="0.50" opacity="0.52"/><circle cx="66.1" cy="53.3" r="0.47" opacity="0.54"/><circle cx="61.7" cy="55.8" r="0.49" opacity="0.38"/><circle cx="62.4" cy="57.3" r="0.51" opacity="0.46"/><circle cx="67.9" cy="49.7" r="0.62" opacity="0.56"/><circle cx="67.7" cy="52.0" r="0.67" opacity="0.47"/><circle cx="60.5" cy="56.3" r="0.48" opacity="0.49"/><circle cx="65.6" cy="48.0" r="0.46" opacity="0.56"/><circle cx="67.1" cy="51.0" r="0.74" opacity="0.54"/><circle cx="68.0" cy="51.2" r="0.68" opacity="0.48"/><circle cx="7.7" cy="60.0" r="0.69" opacity="0.42"/><circle cx="5.6" cy="61.9" r="0.48" opacity="0.41"/><circle cx="4.7" cy="50.9" r="0.62" opacity="0.38"/><circle cx="10.4" cy="58.4" r="0.68" opacity="0.49"/><circle cx="3.4" cy="52.3" r="0.54" opacity="0.43"/><circle cx="8.3" cy="53.3" r="0.41" opacity="0.53"/><circle cx="7.0" cy="59.4" r="0.58" opacity="0.54"/><circle cx="15.4" cy="69.4" r="0.56" opacity="0.36"/><circle cx="14.8" cy="68.3" r="0.63" opacity="0.44"/></g></g>
<g id="n6" filter="url(#bl)" fill="#2a56cc"><ellipse cx="36.0" cy="0.4" rx="2.0" ry="0.9" transform="rotate(0 36.0 0.4)"/><ellipse cx="52.7" cy="14.4" rx="3.6" ry="2.6" transform="rotate(-10 52.7 14.4)"/><ellipse cx="11.6" cy="27.9" rx="2.6" ry="3.5" transform="rotate(10 11.6 27.9)"/><ellipse cx="28.1" cy="28.6" rx="3.0" ry="3.7" transform="rotate(10 28.1 28.6)"/><ellipse cx="47.6" cy="47.5" rx="2.4" ry="4.2" transform="rotate(-35 47.6 47.5)"/><ellipse cx="31.0" cy="50.2" rx="3.1" ry="3.6" transform="rotate(15 31.0 50.2)"/><ellipse cx="1.3" cy="50.2" rx="1.3" ry="2.2" transform="rotate(0 1.3 50.2)"/><ellipse cx="53.6" cy="59.0" rx="3.6" ry="2.0" transform="rotate(-20 53.6 59.0)"/><ellipse cx="6.3" cy="61.8" rx="2.7" ry="3.6" transform="rotate(-10 6.3 61.8)"/></g>
<g id="r6"><g filter="url(#br)"><ellipse cx="53.0" cy="15.0" rx="7.3" ry="6.2" transform="rotate(0 53.0 15.0)" fill="url(#ring)" opacity="0.29"/><ellipse cx="53.0" cy="15.0" rx="5.2" ry="4.4" transform="rotate(0 53.0 15.0)" fill="none" stroke="#d01c1e" stroke-width="1.38" opacity="0.09"/><ellipse cx="10.5" cy="28.0" rx="7.3" ry="6.2" transform="rotate(0 10.5 28.0)" fill="url(#ring)" opacity="0.29"/><ellipse cx="10.5" cy="28.0" rx="5.2" ry="4.4" transform="rotate(0 10.5 28.0)" fill="none" stroke="#d01c1e" stroke-width="1.38" opacity="0.09"/><ellipse cx="29.5" cy="28.5" rx="6.2" ry="6.2" transform="rotate(0 29.5 28.5)" fill="url(#ring)" opacity="0.29"/><ellipse cx="29.5" cy="28.5" rx="4.4" ry="4.4" transform="rotate(0 29.5 28.5)" fill="none" stroke="#d01c1e" stroke-width="1.38" opacity="0.09"/><ellipse cx="47.0" cy="46.0" rx="6.2" ry="7.8" transform="rotate(-30 47.0 46.0)" fill="url(#ring)" opacity="0.26"/><ellipse cx="47.0" cy="46.0" rx="4.4" ry="5.6" transform="rotate(-30 47.0 46.0)" fill="none" stroke="#d01c1e" stroke-width="1.38" opacity="0.08"/><ellipse cx="31.0" cy="52.0" rx="7.8" ry="9.5" transform="rotate(0 31.0 52.0)" fill="url(#ring)" opacity="0.34"/><ellipse cx="31.0" cy="52.0" rx="5.6" ry="6.8" transform="rotate(0 31.0 52.0)" fill="none" stroke="#d01c1e" stroke-width="1.75" opacity="0.10"/><ellipse cx="1.5" cy="48.5" rx="3.4" ry="5.0" transform="rotate(0 1.5 48.5)" fill="url(#ring)" opacity="0.32"/><ellipse cx="1.5" cy="48.5" rx="2.4" ry="3.6" transform="rotate(0 1.5 48.5)" fill="none" stroke="#d01c1e" stroke-width="0.90" opacity="0.10"/><ellipse cx="53.0" cy="60.5" rx="6.2" ry="4.5" transform="rotate(0 53.0 60.5)" fill="url(#ring)" opacity="0.29"/><ellipse cx="53.0" cy="60.5" rx="4.4" ry="3.2" transform="rotate(0 53.0 60.5)" fill="none" stroke="#d01c1e" stroke-width="1.00" opacity="0.09"/><ellipse cx="5.5" cy="58.5" rx="3.4" ry="5.0" transform="rotate(0 5.5 58.5)" fill="url(#ring)" opacity="0.28"/><ellipse cx="5.5" cy="58.5" rx="2.4" ry="3.6" transform="rotate(0 5.5 58.5)" fill="none" stroke="#d01c1e" stroke-width="0.90" opacity="0.08"/></g><g filter="url(#bd)" fill="#d82020"><circle cx="50.7" cy="17.7" r="0.70" opacity="0.38"/><circle cx="50.2" cy="11.2" r="0.55" opacity="0.39"/><circle cx="53.7" cy="11.0" r="0.56" opacity="0.38"/><circle cx="55.8" cy="12.9" r="0.51" opacity="0.39"/><circle cx="51.4" cy="10.4" r="0.45" opacity="0.38"/><circle cx="53.1" cy="18.4" r="0.46" opacity="0.46"/><circle cx="51.3" cy="17.6" r="0.66" opacity="0.55"/><circle cx="57.9" cy="18.1" r="0.53" opacity="0.37"/><circle cx="16.0" cy="27.5" r="0.55" opacity="0.50"/><circle cx="12.2" cy="32.0" r="0.47" opacity="0.37"/><circle cx="8.2" cy="29.7" r="0.68" opacity="0.43"/><circle cx="8.9" cy="24.4" r="0.56" opacity="0.48"/><circle cx="13.6" cy="31.2" r="0.66" opacity="0.44"/><circle cx="14.1" cy="26.0" r="0.66" opacity="0.47"/><circle cx="7.3" cy="29.5" r="0.71" opacity="0.50"/><circle cx="30.2" cy="24.1" r="0.64" opacity="0.53"/><circle cx="27.2" cy="25.6" r="0.62" opacity="0.42"/><circle cx="32.5" cy="30.6" r="0.65" opacity="0.51"/><circle cx="27.3" cy="26.2" r="0.56" opacity="0.44"/><circle cx="26.9" cy="26.0" r="0.73" opacity="0.49"/><circle cx="31.2" cy="32.4" r="0.54" opacity="0.51"/><circle cx="24.4" cy="28.8" r="0.59" opacity="0.36"/><circle cx="51.6" cy="49.1" r="0.58" opacity="0.50"/><circle cx="51.4" cy="47.0" r="0.65" opacity="0.43"/><circle cx="43.1" cy="47.8" r="0.58" opacity="0.48"/><circle cx="45.0" cy="51.1" r="0.64" opacity="0.37"/><circle cx="45.7" cy="50.9" r="0.74" opacity="0.35"/><circle cx="46.9" cy="49.1" r="0.54" opacity="0.38"/><circle cx="35.6" cy="52.5" r="0.64" opacity="0.49"/><circle cx="28.6" cy="56.0" r="0.66" opacity="0.44"/><circle cx="35.6" cy="49.8" r="0.68" opacity="0.44"/><circle cx="28.0" cy="55.0" r="0.67" opacity="0.42"/><circle cx="33.0" cy="45.9" r="0.60" opacity="0.50"/><circle cx="32.0" cy="59.8" r="0.62" opacity="0.47"/><circle cx="33.5" cy="45.4" r="0.50" opacity="0.50"/><circle cx="27.6" cy="50.7" r="0.52" opacity="0.59"/><circle cx="33.4" cy="48.0" r="0.49" opacity="0.48"/><circle cx="27.6" cy="54.1" r="0.65" opacity="0.39"/><circle cx="30.2" cy="56.8" r="0.57" opacity="0.46"/><circle cx="26.2" cy="54.8" r="0.53" opacity="0.54"/><circle cx="3.9" cy="46.8" r="0.69" opacity="0.39"/><circle cx="3.6" cy="46.4" r="0.69" opacity="0.41"/><circle cx="0.6" cy="47.0" r="0.73" opacity="0.38"/><circle cx="51.2" cy="58.6" r="0.45" opacity="0.37"/><circle cx="53.5" cy="63.8" r="0.45" opacity="0.42"/><circle cx="56.8" cy="58.6" r="0.71" opacity="0.39"/><circle cx="49.4" cy="58.4" r="0.71" opacity="0.49"/><circle cx="54.1" cy="57.1" r="0.64" opacity="0.39"/><circle cx="3.1" cy="57.8" r="0.71" opacity="0.43"/><circle cx="3.9" cy="57.6" r="0.45" opacity="0.39"/><circle cx="4.1" cy="58.6" r="0.45" opacity="0.44"/><circle cx="3.4" cy="58.7" r="0.70" opacity="0.45"/></g></g>
</defs>
<g id="panelA">
<text class="pl" x="-0.6" y="15.3">a</text>
<text class="h" x="246.6" y="25.8">KC</text>
<text class="h" x="152" y="37.7" text-anchor="middle">si-NC</text>
<text class="h" x="369.2" y="37.7" text-anchor="middle">si-lnc-Lfar1</text>
<rect x="60.8" y="41.9" width="171.5" height="1.1" fill="#231815"/>
<rect x="282.3" y="41.9" width="171.6" height="1.1" fill="#231815"/>
<text class="h" x="75.3" y="58.9" text-anchor="middle">Merge</text>
<text class="h" x="148.3" y="58.9" text-anchor="middle">DAPI</text>
<text class="h" x="219.5" y="58.9" text-anchor="middle">F4/80</text>
<text class="h" x="296.0" y="58.9" text-anchor="middle">Merge</text>
<text class="h" x="369.3" y="58.9" text-anchor="middle">DAPI</text>
<text class="h" x="440.4" y="58.9" text-anchor="middle">F4/80</text>
<text class="h" x="38.6" y="104.3" text-anchor="end">Control</text>
<text class="h" x="40.3" y="173.8" text-anchor="end">LPS</text>
<text class="h" x="40.0" y="246.0" text-anchor="end">IFN-γ</text>
<g transform="translate(41.9 61.6)" clip-path="url(#cp)">
<rect width="70.3" height="70" fill="#000"/>
<use href="#r1"/>
<use href="#n1"/>
<rect x="54.0" y="65.5" width="12.8" height="1.7" fill="#e2e2e2"/>
</g>
<g transform="translate(114.1 61.6)" clip-path="url(#cp)">
<rect width="70.3" height="70" fill="#000"/>
<use href="#n1"/>
<rect x="54.0" y="65.5" width="12.8" height="1.7" fill="#e2e2e2"/>
</g>
<g transform="translate(185.9 61.6)" clip-path="url(#cp)">
<rect width="70.3" height="70" fill="#000"/>
<use href="#r1"/>
<rect x="54.0" y="65.5" width="12.8" height="1.7" fill="#e2e2e2"/>
</g>
<g transform="translate(260.9 61.6)" clip-path="url(#cp)">
<rect width="70.3" height="70" fill="#000"/>
<use href="#r4"/>
<use href="#n4"/>
<rect x="54.0" y="65.5" width="12.8" height="1.7" fill="#e2e2e2"/>
</g>
<g transform="translate(333.1 61.6)" clip-path="url(#cp)">
<rect width="70.3" height="70" fill="#000"/>
<use href="#n4"/>
<rect x="54.0" y="65.5" width="12.8" height="1.7" fill="#e2e2e2"/>
</g>
<g transform="translate(405.1 61.6)" clip-path="url(#cp)">
<rect width="70.3" height="70" fill="#000"/>
<use href="#r4"/>
<rect x="53.0" y="65.5" width="12.8" height="1.7" fill="#e2e2e2"/>
</g>
<g transform="translate(41.9 133.5)" clip-path="url(#cp)">
<rect width="70.3" height="70" fill="#000"/>
<use href="#r2"/>
<use href="#n2"/>
<rect x="54.0" y="65.5" width="12.8" height="1.7" fill="#e2e2e2"/>
</g>
<g transform="translate(114.1 133.5)" clip-path="url(#cp)">
<rect width="70.3" height="70" fill="#000"/>
<use href="#n2"/>
<rect x="54.0" y="65.5" width="12.8" height="1.7" fill="#e2e2e2"/>
</g>
<g transform="translate(185.9 133.5)" clip-path="url(#cp)">
<rect width="70.3" height="70" fill="#000"/>
<use href="#r2"/>
<rect x="54.0" y="65.5" width="12.8" height="1.7" fill="#e2e2e2"/>
</g>
<g transform="translate(260.9 133.5)" clip-path="url(#cp)">
<rect width="70.3" height="70" fill="#000"/>
<use href="#r5"/>
<use href="#n5"/>
<rect x="54.0" y="65.5" width="12.8" height="1.7" fill="#e2e2e2"/>
</g>
<g transform="translate(333.1 133.5)" clip-path="url(#cp)">
<rect width="70.3" height="70" fill="#000"/>
<use href="#n5"/>
<rect x="54.0" y="65.5" width="12.8" height="1.7" fill="#e2e2e2"/>
</g>
<g transform="translate(405.1 133.5)" clip-path="url(#cp)">
<rect width="70.3" height="70" fill="#000"/>
<use href="#r5"/>
<rect x="53.0" y="65.5" width="12.8" height="1.7" fill="#e2e2e2"/>
</g>
<g transform="translate(41.9 205.2)" clip-path="url(#cp)">
<rect width="70.3" height="70" fill="#000"/>
<use href="#r3"/>
<use href="#n3"/>
<rect x="54.0" y="65.5" width="12.8" height="1.7" fill="#e2e2e2"/>
</g>
<g transform="translate(114.1 205.2)" clip-path="url(#cp)">
<rect width="70.3" height="70" fill="#000"/>
<use href="#n3"/>
<rect x="54.0" y="65.5" width="12.8" height="1.7" fill="#e2e2e2"/>
</g>
<g transform="translate(185.9 205.2)" clip-path="url(#cp)">
<rect width="70.3" height="70" fill="#000"/>
<use href="#r3"/>
<rect x="54.0" y="65.5" width="12.8" height="1.7" fill="#e2e2e2"/>
</g>
<g transform="translate(260.9 205.2)" clip-path="url(#cp)">
<rect width="70.3" height="70" fill="#000"/>
<use href="#r6"/>
<use href="#n6"/>
<rect x="54.0" y="65.5" width="12.8" height="1.7" fill="#e2e2e2"/>
</g>
<g transform="translate(333.1 205.2)" clip-path="url(#cp)">
<rect width="70.3" height="70" fill="#000"/>
<use href="#n6"/>
<rect x="54.0" y="65.5" width="12.8" height="1.7" fill="#e2e2e2"/>
</g>
<g transform="translate(405.1 205.2)" clip-path="url(#cp)">
<rect width="70.3" height="70" fill="#000"/>
<use href="#r6"/>
<rect x="53.0" y="65.5" width="12.8" height="1.7" fill="#e2e2e2"/>
</g>
</g>
<text class="pl" x="485.7" y="16.2">b</text>
<g id="panelB">
<linearGradient id="sg1" x1="0" y1="0" x2="0" y2="1"><stop offset="0" stop-color="#cecece"/><stop offset="1" stop-color="#c6c6c6"/></linearGradient>
<rect x="514.7" y="64.0" width="126.6" height="20.8" fill="url(#sg1)"/>
<linearGradient id="sg2" x1="0" y1="0" x2="0" y2="1"><stop offset="0" stop-color="#dadada"/><stop offset="1" stop-color="#e6e6e6"/></linearGradient>
<rect x="514.7" y="89.1" width="126.6" height="23.6" fill="url(#sg2)"/>
<linearGradient id="sg3" x1="0" y1="0" x2="0" y2="1"><stop offset="0" stop-color="#c6c6c6"/><stop offset="1" stop-color="#e2e2e2"/></linearGradient>
<rect x="514.7" y="116.1" width="126.6" height="23.8" fill="url(#sg3)"/>
<rect x="517.8" y="73.6" width="23.4" height="2.4" rx="1.2" fill="#333" opacity="0.80" filter="url(#bb)"/>
<rect x="551.0" y="72.9" width="24.2" height="3.8" rx="1.9" fill="#050505" opacity="1.00" filter="url(#bb)"/>
<rect x="584.0" y="74.0" width="22.0" height="2.2" rx="1.1" fill="#888" opacity="0.35" filter="url(#bb2)"/>
<rect x="618.5" y="74.2" width="22.5" height="2.6" rx="1.3" fill="#555" opacity="0.55" filter="url(#bb)"/>
<rect x="517.0" y="99.8" width="26.0" height="2.2" rx="1.1" fill="#999" opacity="0.30" filter="url(#bb2)"/>
<rect x="583.0" y="99.4" width="25.0" height="2.8" rx="1.4" fill="#777" opacity="0.50" filter="url(#bb2)"/>
<rect x="614.0" y="100.7" width="24.0" height="2.4" rx="1.2" fill="#999" opacity="0.30" filter="url(#bb2)"/>
<rect x="516.5" y="118.5" width="123.0" height="4.5" rx="2.2" fill="#777" opacity="0.40" filter="url(#bb2)"/>
<g filter="url(#bb)" fill="#000" opacity="1.00"><rect x="516.7" y="123.9" width="27.2" height="7.8" rx="3"/><ellipse cx="522.0" cy="127.8" rx="6.5" ry="5.0"/><ellipse cx="538.6" cy="127.8" rx="6.5" ry="5.0"/></g>
<g filter="url(#bb)" fill="#000" opacity="1.00"><rect x="549.0" y="123.9" width="26.8" height="7.8" rx="3"/><ellipse cx="554.3" cy="127.8" rx="6.5" ry="5.0"/><ellipse cx="570.5" cy="127.8" rx="6.5" ry="5.0"/></g>
<g filter="url(#bb)" fill="#000" opacity="1.00"><rect x="580.7" y="123.9" width="27.3" height="7.8" rx="3"/><ellipse cx="586.0" cy="127.8" rx="6.5" ry="5.0"/><ellipse cx="602.7" cy="127.8" rx="6.5" ry="5.0"/></g>
<g filter="url(#bb)" fill="#000" opacity="1.00"><rect x="612.8" y="123.9" width="27.2" height="7.8" rx="3"/><ellipse cx="618.1" cy="127.8" rx="6.5" ry="5.0"/><ellipse cx="634.7" cy="127.8" rx="6.5" ry="5.0"/></g>
<path d="M551.5 99.4Q560 96.2 568 97.6T579 99.6" fill="none" stroke="#3a3a3a" stroke-width="2.4" stroke-linecap="round" opacity="0.72" filter="url(#bb)"/>
<text class="w" x="507.4" y="72.5" text-anchor="end">130</text>
<rect x="508.4" y="68.0" width="12.4" height="1.6" fill="#231815"/>
<text class="w" x="503.4" y="97.5" text-anchor="end">15</text>
<rect x="506.2" y="93.0" width="12.7" height="1.6" fill="#231815"/>
<text class="w" x="503.6" y="137.2" text-anchor="end">35</text>
<rect x="506.2" y="132.7" width="13.5" height="1.6" fill="#231815"/>
<text class="h" transform="translate(530.5 60.0) rotate(-45)">si-NC</text>
<text class="h" transform="translate(561.3 61.5) rotate(-45)">si-NC + LPS</text>
<text class="h" transform="translate(593.4 61.5) rotate(-45)">si-lnc-Lfar1</text>
<text class="h" transform="translate(620.2 60.0) rotate(-45)">si-lnc-Lfar1</text>
<text class="h" transform="translate(639.4 61.4) rotate(-45)">+ LPS</text>
<text class="h" x="643.0" y="78.0">CD11b</text>
<text class="h" x="643.0" y="104.0">MCP-1</text>
<text class="h" x="643.0" y="133.8">GAPDH</text>
<text class="w" x="492.6" y="52.7">kDa</text>
</g>
<text class="pl" x="485.7" y="165.2">c</text>
<g id="panelC">
<linearGradient id="sg4" x1="0" y1="0" x2="0" y2="1"><stop offset="0" stop-color="#dadada"/><stop offset="1" stop-color="#c6c6c6"/></linearGradient>
<rect x="514.7" y="203.0" width="126.6" height="18.7" fill="url(#sg4)"/>
<linearGradient id="sg5" x1="0" y1="0" x2="0" y2="1"><stop offset="0" stop-color="#d8d8d8"/><stop offset="1" stop-color="#e0e0e0"/></linearGradient>
<rect x="514.7" y="226.2" width="126.6" height="20.8" fill="url(#sg5)"/>
<linearGradient id="sg6" x1="0" y1="0" x2="0" y2="1"><stop offset="0" stop-color="#cccccc"/><stop offset="1" stop-color="#e6e6e6"/></linearGradient>
<rect x="514.7" y="252.0" width="126.6" height="22.8" fill="url(#sg6)"/>
<rect x="517.9" y="211.6" width="25.0" height="3.0" rx="1.5" fill="#000" opacity="1.00" filter="url(#bb)"/>
<rect x="551.6" y="210.5" width="25.0" height="4.6" rx="2.3" fill="#000" opacity="1.00" filter="url(#bb)"/>
<rect x="583.0" y="211.8" width="23.5" height="2.8" rx="1.4" fill="#444" opacity="0.70" filter="url(#bb)"/>
<rect x="615.0" y="212.3" width="22.0" height="2.4" rx="1.2" fill="#999" opacity="0.35" filter="url(#bb2)"/>
<rect x="517.0" y="236.5" width="26.0" height="2.4" rx="1.2" fill="#999" opacity="0.30" filter="url(#bb2)"/>
<rect x="551.6" y="233.0" width="24.5" height="5.6" rx="2.8" fill="#000" opacity="1.00" filter="url(#bb)"/>
<rect x="560.0" y="232.2" width="16.0" height="4.0" rx="2.0" fill="#000" opacity="0.80" filter="url(#bb)"/>
<rect x="583.0" y="234.4" width="24.5" height="3.8" rx="1.9" fill="#555" opacity="0.70" filter="url(#bb2)"/>
<rect x="614.0" y="235.5" width="24.0" height="3.2" rx="1.6" fill="#888" opacity="0.45" filter="url(#bb2)"/>
<rect x="549.0" y="228.5" width="90.0" height="8.0" rx="4.0" fill="#999" opacity="0.35" filter="url(#bb2)"/>
<rect x="516.5" y="254.0" width="123.0" height="4.5" rx="2.2" fill="#777" opacity="0.40" filter="url(#bb2)"/>
<g filter="url(#bb)" fill="#000" opacity="1.00"><rect x="516.5" y="259.7" width="26.6" height="7.2" rx="3"/><ellipse cx="521.8" cy="263.3" rx="6.5" ry="4.7"/><ellipse cx="537.8" cy="263.3" rx="6.5" ry="4.7"/></g>
<g filter="url(#bb)" fill="#000" opacity="1.00"><rect x="548.8" y="259.7" width="27.2" height="7.2" rx="3"/><ellipse cx="554.1" cy="263.3" rx="6.5" ry="4.7"/><ellipse cx="570.7" cy="263.3" rx="6.5" ry="4.7"/></g>
<g filter="url(#bb)" fill="#000" opacity="1.00"><rect x="580.2" y="259.7" width="26.6" height="7.2" rx="3"/><ellipse cx="585.5" cy="263.3" rx="6.5" ry="4.7"/><ellipse cx="601.5" cy="263.3" rx="6.5" ry="4.7"/></g>
<g filter="url(#bb)" fill="#000" opacity="1.00"><rect x="612.1" y="258.7" width="26.8" height="7.4" rx="3"/><ellipse cx="617.4" cy="262.4" rx="6.5" ry="4.8"/><ellipse cx="633.6" cy="262.4" rx="6.5" ry="4.8"/></g>
<text class="w" x="509.9" y="210.3" text-anchor="end">130</text>
<rect x="511.5" y="205.8" width="12.5" height="1.6" fill="#231815"/>
<text class="w" x="506.1" y="235.6" text-anchor="end">15</text>
<rect x="508.8" y="231.1" width="13.1" height="1.6" fill="#231815"/>
<text class="w" x="506.1" y="275.0" text-anchor="end">35</text>
<rect x="509.0" y="270.5" width="13.3" height="1.6" fill="#231815"/>
<text class="h" transform="translate(530.3 203.0) rotate(-45)">si-NC</text>
<text class="h" transform="translate(561.3 204.0) rotate(-45)">si-NC + IFN-γ</text>
<text class="h" transform="translate(593.4 204.0) rotate(-45)">si-lnc-Lfar1</text>
<text class="h" transform="translate(620.9 202.5) rotate(-45)">si-lnc-Lfar1</text>
<text class="h" transform="translate(641.2 203.5) rotate(-45)">+ IFN-γ</text>
<text class="h" x="643.0" y="214.8">CD11b</text>
<text class="h" x="643.0" y="240.0">MCP-1</text>
<text class="h" x="643.0" y="269.6">GAPDH</text>
<text class="w" x="495.6" y="190.5">kDa</text>
</g>
<g id="panelD">
<text class="pl" x="0.2" y="309.6">d</text>
<path d="M43.1 314.6V371.1M43.1 380.2V437.0M42.5 436.4H562" stroke="#000" stroke-width="1.35" fill="none"/>
<path d="M39.2 436.40h3.9M39.2 425.16h3.9M39.2 413.92h3.9M39.2 402.68h3.9M39.2 391.44h3.9M39.2 380.20h3.9M39.2 363.25h3.9M39.2 347.25h3.9M39.2 331.25h3.9M39.2 315.25h3.9M40.8 371.3h5.1M43.1 380.2h3.0M68.40 436.4v3.6M119.87 436.4v3.6M171.34 436.4v3.6M222.81 436.4v3.6M274.28 436.4v3.6M325.75 436.4v3.6M377.22 436.4v3.6M428.69 436.4v3.6M480.16 436.4v3.6M531.63 436.4v3.6" stroke="#000" stroke-width="1.3" fill="none"/>
<text class="tk" x="38.4" y="439.6" text-anchor="end">0</text>
<text class="tk" x="38.4" y="428.4" text-anchor="end">1</text>
<text class="tk" x="38.4" y="417.1" text-anchor="end">2</text>
<text class="tk" x="38.4" y="405.9" text-anchor="end">3</text>
<text class="tk" x="38.4" y="394.6" text-anchor="end">4</text>
<text class="tk" x="38.4" y="383.4" text-anchor="end">5</text>
<text class="tk" x="38.4" y="366.4" text-anchor="end">10</text>
<text class="tk" x="38.4" y="350.4" text-anchor="end">20</text>
<text class="tk" x="38.4" y="334.4" text-anchor="end">30</text>
<text class="tk" x="38.4" y="318.4" text-anchor="end">40</text>
<text class="yl" transform="translate(21.3 375.6) rotate(-90)" text-anchor="middle">Relative level of RNA</text>
<path d="M52.20 424.46V423.56M49.50 423.56h5.40" stroke="#000" stroke-width="1.3" fill="none"/><rect x="48.55" y="425.16" width="7.30" height="11.24" fill="#2a52a6" stroke="#000" stroke-width="1.40"/>
<path d="M63.20 426.71V426.03M60.50 426.03h5.40" stroke="#000" stroke-width="1.3" fill="none"/><rect x="59.55" y="427.41" width="7.30" height="8.99" fill="#e1271f" stroke="#000" stroke-width="1.40"/>
<path d="M74.20 430.98V430.53M71.50 430.53h5.40" stroke="#000" stroke-width="1.3" fill="none"/><rect x="70.55" y="431.68" width="7.30" height="4.72" fill="#5db82e" stroke="#000" stroke-width="1.40"/>
<text class="st" x="74.3" y="432.4" text-anchor="middle">*</text>
<path d="M85.20 430.98V430.53M82.50 430.53h5.40" stroke="#000" stroke-width="1.3" fill="none"/><rect x="81.55" y="431.68" width="7.30" height="4.72" fill="#5b9bd5" stroke="#000" stroke-width="1.40"/>
<text class="xl" transform="translate(70.7 450.4) rotate(-45)" text-anchor="end">lnc-Lfar1</text>
<path d="M103.66 424.46V423.79M100.96 423.79h5.40" stroke="#000" stroke-width="1.3" fill="none"/><rect x="100.01" y="425.16" width="7.30" height="11.24" fill="#2a52a6" stroke="#000" stroke-width="1.40"/>
<path d="M114.66 405.91V403.33M111.96 403.33h5.40" stroke="#000" stroke-width="1.3" fill="none"/><rect x="111.01" y="406.61" width="7.30" height="29.79" fill="#e1271f" stroke="#000" stroke-width="1.40"/>
<text class="st" x="114.8" y="406.2" text-anchor="middle">*</text>
<path d="M125.66 429.52V428.96M122.96 428.96h5.40" stroke="#000" stroke-width="1.3" fill="none"/><rect x="122.01" y="430.22" width="7.30" height="6.18" fill="#5db82e" stroke="#000" stroke-width="1.40"/>
<text class="st" x="125.8" y="429.4" text-anchor="middle">*</text>
<path d="M136.66 423.34V422.66M133.96 422.66h5.40" stroke="#000" stroke-width="1.3" fill="none"/><rect x="133.01" y="424.04" width="7.30" height="12.36" fill="#5b9bd5" stroke="#000" stroke-width="1.40"/>
<text class="hs" x="136.0" y="417.0" text-anchor="middle">#</text>
<text class="xl" transform="translate(122.2 450.4) rotate(-45)" text-anchor="end">F4/80</text>
<path d="M155.12 424.46V424.01M152.42 424.01h5.40" stroke="#000" stroke-width="1.3" fill="none"/><rect x="151.47" y="425.16" width="7.30" height="11.24" fill="#2a52a6" stroke="#000" stroke-width="1.40"/>
<path d="M166.12 401.98V398.95M163.42 398.95h5.40" stroke="#000" stroke-width="1.3" fill="none"/><rect x="162.47" y="402.68" width="7.30" height="33.72" fill="#e1271f" stroke="#000" stroke-width="1.40"/>
<text class="st" x="166.2" y="401.8" text-anchor="middle">*</text>
<path d="M177.12 427.83V427.27M174.42 427.27h5.40" stroke="#000" stroke-width="1.3" fill="none"/><rect x="173.47" y="428.53" width="7.30" height="7.87" fill="#5db82e" stroke="#000" stroke-width="1.40"/>
<text class="st" x="177.2" y="428.4" text-anchor="middle">*</text>
<path d="M188.12 422.21V421.65M185.42 421.65h5.40" stroke="#000" stroke-width="1.3" fill="none"/><rect x="184.47" y="422.91" width="7.30" height="13.49" fill="#5b9bd5" stroke="#000" stroke-width="1.40"/>
<text class="hs" x="187.4" y="417.5" text-anchor="middle">#</text>
<text class="xl" transform="translate(173.6 450.4) rotate(-45)" text-anchor="end">Ly6c</text>
<path d="M206.58 424.46V424.01M203.88 424.01h5.40" stroke="#000" stroke-width="1.3" fill="none"/><rect x="202.93" y="425.16" width="7.30" height="11.24" fill="#2a52a6" stroke="#000" stroke-width="1.40"/>
<path d="M217.58 411.53V410.75M214.88 410.75h5.40" stroke="#000" stroke-width="1.3" fill="none"/><rect x="213.93" y="412.23" width="7.30" height="24.17" fill="#e1271f" stroke="#000" stroke-width="1.40"/>
<text class="st" x="217.7" y="410.6" text-anchor="middle">*</text>
<path d="M228.58 430.98V430.30M225.88 430.30h5.40" stroke="#000" stroke-width="1.3" fill="none"/><rect x="224.93" y="431.68" width="7.30" height="4.72" fill="#5db82e" stroke="#000" stroke-width="1.40"/>
<text class="st" x="228.7" y="431.7" text-anchor="middle">*</text>
<path d="M239.58 427.61V427.05M236.88 427.05h5.40" stroke="#000" stroke-width="1.3" fill="none"/><rect x="235.93" y="428.31" width="7.30" height="8.09" fill="#5b9bd5" stroke="#000" stroke-width="1.40"/>
<text class="hs" x="238.9" y="423.1" text-anchor="middle">#</text>
<text class="xl" transform="translate(225.1 450.4) rotate(-45)" text-anchor="end">Tnf-α</text>
<path d="M258.04 424.46V424.01M255.34 424.01h5.40" stroke="#000" stroke-width="1.3" fill="none"/><rect x="254.39" y="425.16" width="7.30" height="11.24" fill="#2a52a6" stroke="#000" stroke-width="1.40"/>
<rect x="265.29" y="380.2" width="7.50" height="56.20" fill="#e1271f"/>
<path d="M265.39 380.2V436.4M272.69 380.2V436.4" stroke="#000" stroke-width="1.40"/>
<path d="M269.04 366.29V365.01M266.34 365.01h5.4" stroke="#000" stroke-width="1.3" fill="none"/>
<rect x="265.29" y="366.29" width="7.50" height="5.01" fill="#e1271f"/>
<path d="M265.39 371.3V366.99H272.69V371.3" stroke="#000" stroke-width="1.40" fill="none"/>
<text class="st" x="269.1" y="367.5" text-anchor="middle">*</text>
<path d="M280.04 429.52V428.73M277.34 428.73h5.40" stroke="#000" stroke-width="1.3" fill="none"/><rect x="276.39" y="430.22" width="7.30" height="6.18" fill="#5db82e" stroke="#000" stroke-width="1.40"/>
<text class="st" x="280.1" y="430.1" text-anchor="middle">*</text>
<path d="M291.04 412.10V409.29M288.34 409.29h5.40" stroke="#000" stroke-width="1.3" fill="none"/><rect x="287.39" y="412.80" width="7.30" height="23.60" fill="#5b9bd5" stroke="#000" stroke-width="1.40"/>
<text class="hs" x="290.3" y="407.4" text-anchor="middle">#</text>
<text class="xl" transform="translate(276.6 450.4) rotate(-45)" text-anchor="end">Mcp-1</text>
<path d="M309.50 424.46V424.01M306.80 424.01h5.40" stroke="#000" stroke-width="1.3" fill="none"/><rect x="305.85" y="425.16" width="7.30" height="11.24" fill="#2a52a6" stroke="#000" stroke-width="1.40"/>
<path d="M320.50 390.74V387.93M317.80 387.93h5.40" stroke="#000" stroke-width="1.3" fill="none"/><rect x="316.85" y="391.44" width="7.30" height="44.96" fill="#e1271f" stroke="#000" stroke-width="1.40"/>
<text class="st" x="320.6" y="388.8" text-anchor="middle">*</text>
<path d="M331.50 428.96V428.28M328.80 428.28h5.40" stroke="#000" stroke-width="1.3" fill="none"/><rect x="327.85" y="429.66" width="7.30" height="6.74" fill="#5db82e" stroke="#000" stroke-width="1.40"/>
<text class="st" x="331.6" y="429.2" text-anchor="middle">*</text>
<path d="M342.50 421.65V421.09M339.80 421.09h5.40" stroke="#000" stroke-width="1.3" fill="none"/><rect x="338.85" y="422.35" width="7.30" height="14.05" fill="#5b9bd5" stroke="#000" stroke-width="1.40"/>
<text class="hs" x="341.8" y="417.0" text-anchor="middle">#</text>
<text class="xl" transform="translate(328.1 450.4) rotate(-45)" text-anchor="end">Il-1β</text>
<path d="M360.96 424.46V423.67M358.26 423.67h5.40" stroke="#000" stroke-width="1.3" fill="none"/><rect x="357.31" y="425.16" width="7.30" height="11.24" fill="#2a52a6" stroke="#000" stroke-width="1.40"/>
<rect x="368.21" y="380.2" width="7.50" height="56.20" fill="#e1271f"/>
<path d="M368.31 380.2V436.4M375.61 380.2V436.4" stroke="#000" stroke-width="1.40"/>
<path d="M371.96 331.09V327.73M369.26 327.73h5.4" stroke="#000" stroke-width="1.3" fill="none"/>
<rect x="368.21" y="331.09" width="7.50" height="40.21" fill="#e1271f"/>
<path d="M368.31 371.3V331.79H375.61V371.3" stroke="#000" stroke-width="1.40" fill="none"/>
<text class="st" x="372.1" y="328.6" text-anchor="middle">*</text>
<path d="M382.96 430.08V429.41M380.26 429.41h5.40" stroke="#000" stroke-width="1.3" fill="none"/><rect x="379.31" y="430.78" width="7.30" height="5.62" fill="#5db82e" stroke="#000" stroke-width="1.40"/>
<text class="st" x="383.1" y="431.3" text-anchor="middle">*</text>
<rect x="390.21" y="380.2" width="7.50" height="56.20" fill="#5b9bd5"/>
<path d="M390.31 380.2V436.4M397.61 380.2V436.4" stroke="#000" stroke-width="1.40"/>
<rect x="390.21" y="370.21" width="7.50" height="1.09" fill="#5b9bd5"/>
<path d="M390.31 371.3V370.91H397.61V371.3" stroke="#000" stroke-width="1.40" fill="none"/>
<text class="hs" x="393.3" y="366.5" text-anchor="middle">#</text>
<text class="xl" transform="translate(379.5 450.4) rotate(-45)" text-anchor="end">Il-6</text>
<path d="M412.42 424.46V424.01M409.72 424.01h5.40" stroke="#000" stroke-width="1.3" fill="none"/><rect x="408.77" y="425.16" width="7.30" height="11.24" fill="#2a52a6" stroke="#000" stroke-width="1.40"/>
<path d="M423.42 413.22V412.32M420.72 412.32h5.40" stroke="#000" stroke-width="1.3" fill="none"/><rect x="419.77" y="413.92" width="7.30" height="22.48" fill="#e1271f" stroke="#000" stroke-width="1.40"/>
<text class="st" x="423.5" y="414.2" text-anchor="middle">*</text>
<path d="M434.42 430.64V430.08M431.72 430.08h5.40" stroke="#000" stroke-width="1.3" fill="none"/><rect x="430.77" y="431.34" width="7.30" height="5.06" fill="#5db82e" stroke="#000" stroke-width="1.40"/>
<text class="st" x="434.5" y="432.0" text-anchor="middle">*</text>
<path d="M445.42 426.71V426.03M442.72 426.03h5.40" stroke="#000" stroke-width="1.3" fill="none"/><rect x="441.77" y="427.41" width="7.30" height="8.99" fill="#5b9bd5" stroke="#000" stroke-width="1.40"/>
<text class="hs" x="444.7" y="421.9" text-anchor="middle">#</text>
<text class="xl" transform="translate(431.0 450.4) rotate(-45)" text-anchor="end">iNos</text>
<path d="M463.88 424.46V423.79M461.18 423.79h5.40" stroke="#000" stroke-width="1.3" fill="none"/><rect x="460.23" y="425.16" width="7.30" height="11.24" fill="#2a52a6" stroke="#000" stroke-width="1.40"/>
<path d="M474.88 392.88V387.03M472.18 387.03h5.40" stroke="#000" stroke-width="1.3" fill="none"/><rect x="471.23" y="393.58" width="7.30" height="42.82" fill="#e1271f" stroke="#000" stroke-width="1.40"/>
<text class="st" x="475.0" y="388.9" text-anchor="middle">*</text>
<path d="M485.88 428.39V427.61M483.18 427.61h5.40" stroke="#000" stroke-width="1.3" fill="none"/><rect x="482.23" y="429.09" width="7.30" height="7.31" fill="#5db82e" stroke="#000" stroke-width="1.40"/>
<text class="st" x="486.0" y="429.5" text-anchor="middle">*</text>
<path d="M496.88 423.79V423.11M494.18 423.11h5.40" stroke="#000" stroke-width="1.3" fill="none"/><rect x="493.23" y="424.49" width="7.30" height="11.91" fill="#5b9bd5" stroke="#000" stroke-width="1.40"/>
<text class="hs" x="496.2" y="419.0" text-anchor="middle">#</text>
<text class="xl" transform="translate(482.5 450.4) rotate(-45)" text-anchor="end">Ccl5</text>
<path d="M515.34 424.46V424.24M512.64 424.24h5.40" stroke="#000" stroke-width="1.3" fill="none"/><rect x="511.69" y="425.16" width="7.30" height="11.24" fill="#2a52a6" stroke="#000" stroke-width="1.40"/>
<path d="M526.34 404.57V402.43M523.64 402.43h5.40" stroke="#000" stroke-width="1.3" fill="none"/><rect x="522.69" y="405.27" width="7.30" height="31.13" fill="#e1271f" stroke="#000" stroke-width="1.40"/>
<text class="st" x="526.4" y="404.3" text-anchor="middle">*</text>
<path d="M537.34 430.08V429.41M534.64 429.41h5.40" stroke="#000" stroke-width="1.3" fill="none"/><rect x="533.69" y="430.78" width="7.30" height="5.62" fill="#5db82e" stroke="#000" stroke-width="1.40"/>
<text class="st" x="537.4" y="430.3" text-anchor="middle">*</text>
<path d="M548.34 425.58V424.91M545.64 424.91h5.40" stroke="#000" stroke-width="1.3" fill="none"/><rect x="544.69" y="426.28" width="7.30" height="10.12" fill="#5b9bd5" stroke="#000" stroke-width="1.40"/>
<text class="hs" x="547.6" y="420.8" text-anchor="middle">#</text>
<text class="xl" transform="translate(533.9 450.4) rotate(-45)" text-anchor="end">Cxcl10</text>
<rect x="558.5" y="320.3" width="13.4" height="6.7" fill="#2a52a6" stroke="#000" stroke-width="1.45"/>
<text class="lg" x="578.7" y="326.9">si-NC</text>
<rect x="558.5" y="334.3" width="13.4" height="6.7" fill="#e1271f" stroke="#000" stroke-width="1.45"/>
<text class="lg" x="578.7" y="340.9">si-NC + LPS</text>
<rect x="558.5" y="348.3" width="13.4" height="6.7" fill="#5db82e" stroke="#000" stroke-width="1.45"/>
<text class="lg" x="578.7" y="354.9">si-lnc-Lfar1</text>
<rect x="558.5" y="362.3" width="13.4" height="6.7" fill="#5b9bd5" stroke="#000" stroke-width="1.45"/>
<text class="lg" x="578.7" y="368.9">si-lnc-Lfar1 + LPS</text>
</g>
<g id="panelE">
<text class="pl" x="-0.6" y="512.2">e</text>
<path d="M40.4 515.7V638.2M39.8 637.6H562" stroke="#000" stroke-width="1.35" fill="none"/>
<path d="M36.5 637.60h3.9M36.5 613.34h3.9M36.5 589.08h3.9M36.5 564.82h3.9M36.5 540.56h3.9M36.5 516.30h3.9M65.50 637.6v3.6M116.95 637.6v3.6M168.40 637.6v3.6M219.85 637.6v3.6M271.30 637.6v3.6M322.75 637.6v3.6M374.20 637.6v3.6M425.65 637.6v3.6M477.10 637.6v3.6M528.55 637.6v3.6" stroke="#000" stroke-width="1.3" fill="none"/>
<text class="tk" x="35.3" y="640.1" text-anchor="end">0</text>
<text class="tk" x="35.3" y="615.8" text-anchor="end">1</text>
<text class="tk" x="35.3" y="591.6" text-anchor="end">2</text>
<text class="tk" x="35.3" y="567.3" text-anchor="end">3</text>
<text class="tk" x="35.3" y="543.1" text-anchor="end">4</text>
<text class="tk" x="35.3" y="518.8" text-anchor="end">5</text>
<text class="yl" transform="translate(24.3 577.3) rotate(-90)" text-anchor="middle">Relative level of RNA</text>
<path d="M48.90 612.64V612.15M46.20 612.15h5.40" stroke="#000" stroke-width="1.3" fill="none"/><rect x="45.25" y="613.34" width="7.30" height="24.26" fill="#2a52a6" stroke="#000" stroke-width="1.40"/>
<path d="M59.90 625.26V621.86M57.20 621.86h5.40" stroke="#000" stroke-width="1.3" fill="none"/><rect x="56.25" y="625.96" width="7.30" height="11.64" fill="#e1271f" stroke="#000" stroke-width="1.40"/>
<text class="st" x="60.0" y="624.9" text-anchor="middle">*</text>
<path d="M70.90 624.77V624.04M68.20 624.04h5.40" stroke="#000" stroke-width="1.3" fill="none"/><rect x="67.25" y="625.47" width="7.30" height="12.13" fill="#5db82e" stroke="#000" stroke-width="1.40"/>
<text class="st" x="71.0" y="627.0" text-anchor="middle">*</text>
<path d="M81.90 627.20V626.23M79.20 626.23h5.40" stroke="#000" stroke-width="1.3" fill="none"/><rect x="78.25" y="627.90" width="7.30" height="9.70" fill="#5b9bd5" stroke="#000" stroke-width="1.40"/>
<text class="xl" transform="translate(67.8 652.4) rotate(-45)" text-anchor="end">lnc-Lfar1</text>
<path d="M100.35 612.64V611.43M97.65 611.43h5.40" stroke="#000" stroke-width="1.3" fill="none"/><rect x="96.70" y="613.34" width="7.30" height="24.26" fill="#2a52a6" stroke="#000" stroke-width="1.40"/>
<path d="M111.35 590.32V589.35M108.65 589.35h5.40" stroke="#000" stroke-width="1.3" fill="none"/><rect x="107.70" y="591.02" width="7.30" height="46.58" fill="#e1271f" stroke="#000" stroke-width="1.40"/>
<text class="st" x="111.4" y="593.2" text-anchor="middle">*</text>
<path d="M122.35 623.07V622.34M119.65 622.34h5.40" stroke="#000" stroke-width="1.3" fill="none"/><rect x="118.70" y="623.77" width="7.30" height="13.83" fill="#5db82e" stroke="#000" stroke-width="1.40"/>
<text class="st" x="122.4" y="625.3" text-anchor="middle">*</text>
<path d="M133.35 616.52V615.79M130.65 615.79h5.40" stroke="#000" stroke-width="1.3" fill="none"/><rect x="129.70" y="617.22" width="7.30" height="20.38" fill="#5b9bd5" stroke="#000" stroke-width="1.40"/>
<text class="hs" x="132.7" y="612.9" text-anchor="middle">#</text>
<text class="xl" transform="translate(119.2 652.4) rotate(-45)" text-anchor="end">F4/80</text>
<path d="M151.80 612.64V611.91M149.10 611.91h5.40" stroke="#000" stroke-width="1.3" fill="none"/><rect x="148.15" y="613.34" width="7.30" height="24.26" fill="#2a52a6" stroke="#000" stroke-width="1.40"/>
<path d="M162.80 583.04V582.07M160.10 582.07h5.40" stroke="#000" stroke-width="1.3" fill="none"/><rect x="159.15" y="583.74" width="7.30" height="53.86" fill="#e1271f" stroke="#000" stroke-width="1.40"/>
<text class="st" x="162.9" y="584.6" text-anchor="middle">*</text>
<path d="M173.80 621.86V621.13M171.10 621.13h5.40" stroke="#000" stroke-width="1.3" fill="none"/><rect x="170.15" y="622.56" width="7.30" height="15.04" fill="#5db82e" stroke="#000" stroke-width="1.40"/>
<text class="st" x="173.9" y="624.1" text-anchor="middle">*</text>
<path d="M184.80 607.55V606.57M182.10 606.57h5.40" stroke="#000" stroke-width="1.3" fill="none"/><rect x="181.15" y="608.25" width="7.30" height="29.35" fill="#5b9bd5" stroke="#000" stroke-width="1.40"/>
<text class="hs" x="184.1" y="603.7" text-anchor="middle">#</text>
<text class="xl" transform="translate(170.7 652.4) rotate(-45)" text-anchor="end">Ly6c</text>
<path d="M203.25 612.64V611.43M200.55 611.43h5.40" stroke="#000" stroke-width="1.3" fill="none"/><rect x="199.60" y="613.34" width="7.30" height="24.26" fill="#2a52a6" stroke="#000" stroke-width="1.40"/>
<path d="M214.25 583.04V577.95M211.55 577.95h5.40" stroke="#000" stroke-width="1.3" fill="none"/><rect x="210.60" y="583.74" width="7.30" height="53.86" fill="#e1271f" stroke="#000" stroke-width="1.40"/>
<text class="st" x="214.4" y="581.5" text-anchor="middle">*</text>
<path d="M225.25 625.26V624.28M222.55 624.28h5.40" stroke="#000" stroke-width="1.3" fill="none"/><rect x="221.60" y="625.96" width="7.30" height="11.64" fill="#5db82e" stroke="#000" stroke-width="1.40"/>
<text class="st" x="225.4" y="627.3" text-anchor="middle">*</text>
<path d="M236.25 614.34V613.37M233.55 613.37h5.40" stroke="#000" stroke-width="1.3" fill="none"/><rect x="232.60" y="615.04" width="7.30" height="22.56" fill="#5b9bd5" stroke="#000" stroke-width="1.40"/>
<text class="hs" x="235.6" y="611.1" text-anchor="middle">#</text>
<text class="xl" transform="translate(222.2 652.4) rotate(-45)" text-anchor="end">Tnf-α</text>
<path d="M254.70 612.64V611.91M252.00 611.91h5.40" stroke="#000" stroke-width="1.3" fill="none"/><rect x="251.05" y="613.34" width="7.30" height="24.26" fill="#2a52a6" stroke="#000" stroke-width="1.40"/>
<path d="M265.70 570.18V566.55M263.00 566.55h5.40" stroke="#000" stroke-width="1.3" fill="none"/><rect x="262.05" y="570.88" width="7.30" height="66.72" fill="#e1271f" stroke="#000" stroke-width="1.40"/>
<text class="st" x="265.8" y="569.5" text-anchor="middle">*</text>
<path d="M276.70 623.31V622.34M274.00 622.34h5.40" stroke="#000" stroke-width="1.3" fill="none"/><rect x="273.05" y="624.01" width="7.30" height="13.59" fill="#5db82e" stroke="#000" stroke-width="1.40"/>
<text class="st" x="276.8" y="625.3" text-anchor="middle">*</text>
<path d="M287.70 607.55V606.57M285.00 606.57h5.40" stroke="#000" stroke-width="1.3" fill="none"/><rect x="284.05" y="608.25" width="7.30" height="29.35" fill="#5b9bd5" stroke="#000" stroke-width="1.40"/>
<text class="hs" x="287.0" y="603.7" text-anchor="middle">#</text>
<text class="xl" transform="translate(273.6 652.4) rotate(-45)" text-anchor="end">Mcp-1</text>
<path d="M306.15 612.64V610.70M303.45 610.70h5.40" stroke="#000" stroke-width="1.3" fill="none"/><rect x="302.50" y="613.34" width="7.30" height="24.26" fill="#2a52a6" stroke="#000" stroke-width="1.40"/>
<path d="M317.15 584.50V583.04M314.45 583.04h5.40" stroke="#000" stroke-width="1.3" fill="none"/><rect x="313.50" y="585.20" width="7.30" height="52.40" fill="#e1271f" stroke="#000" stroke-width="1.40"/>
<text class="st" x="317.2" y="586.0" text-anchor="middle">*</text>
<path d="M328.15 623.07V621.86M325.45 621.86h5.40" stroke="#000" stroke-width="1.3" fill="none"/><rect x="324.50" y="623.77" width="7.30" height="13.83" fill="#5db82e" stroke="#000" stroke-width="1.40"/>
<text class="st" x="328.2" y="624.9" text-anchor="middle">*</text>
<path d="M339.15 615.07V612.64M336.45 612.64h5.40" stroke="#000" stroke-width="1.3" fill="none"/><rect x="335.50" y="615.77" width="7.30" height="21.83" fill="#5b9bd5" stroke="#000" stroke-width="1.40"/>
<text class="hs" x="338.4" y="610.7" text-anchor="middle">#</text>
<text class="xl" transform="translate(325.1 652.4) rotate(-45)" text-anchor="end">Il-1β</text>
<path d="M357.60 612.64V610.94M354.90 610.94h5.40" stroke="#000" stroke-width="1.3" fill="none"/><rect x="353.95" y="613.34" width="7.30" height="24.26" fill="#2a52a6" stroke="#000" stroke-width="1.40"/>
<path d="M368.60 577.46V570.67M365.90 570.67h5.40" stroke="#000" stroke-width="1.3" fill="none"/><rect x="364.95" y="578.16" width="7.30" height="59.44" fill="#e1271f" stroke="#000" stroke-width="1.40"/>
<text class="st" x="368.7" y="573.7" text-anchor="middle">*</text>
<path d="M379.60 623.07V621.86M376.90 621.86h5.40" stroke="#000" stroke-width="1.3" fill="none"/><rect x="375.95" y="623.77" width="7.30" height="13.83" fill="#5db82e" stroke="#000" stroke-width="1.40"/>
<text class="st" x="379.7" y="624.9" text-anchor="middle">*</text>
<path d="M390.60 615.07V614.10M387.90 614.10h5.40" stroke="#000" stroke-width="1.3" fill="none"/><rect x="386.95" y="615.77" width="7.30" height="21.83" fill="#5b9bd5" stroke="#000" stroke-width="1.40"/>
<text class="hs" x="389.9" y="611.2" text-anchor="middle">#</text>
<text class="xl" transform="translate(376.5 652.4) rotate(-45)" text-anchor="end">Il-6</text>
<path d="M409.05 612.64V611.67M406.35 611.67h5.40" stroke="#000" stroke-width="1.3" fill="none"/><rect x="405.40" y="613.34" width="7.30" height="24.26" fill="#2a52a6" stroke="#000" stroke-width="1.40"/>
<path d="M420.05 599.30V598.57M417.35 598.57h5.40" stroke="#000" stroke-width="1.3" fill="none"/><rect x="416.40" y="600.00" width="7.30" height="37.60" fill="#e1271f" stroke="#000" stroke-width="1.40"/>
<text class="st" x="420.2" y="601.6" text-anchor="middle">*</text>
<path d="M431.05 624.04V622.83M428.35 622.83h5.40" stroke="#000" stroke-width="1.3" fill="none"/><rect x="427.40" y="624.74" width="7.30" height="12.86" fill="#5db82e" stroke="#000" stroke-width="1.40"/>
<text class="st" x="431.2" y="625.8" text-anchor="middle">*</text>
<path d="M442.05 617.73V616.76M439.35 616.76h5.40" stroke="#000" stroke-width="1.3" fill="none"/><rect x="438.40" y="618.43" width="7.30" height="19.17" fill="#5b9bd5" stroke="#000" stroke-width="1.40"/>
<text class="hs" x="441.4" y="613.9" text-anchor="middle">#</text>
<text class="xl" transform="translate(428.0 652.4) rotate(-45)" text-anchor="end">iNos</text>
<path d="M460.50 612.64V611.18M457.80 611.18h5.40" stroke="#000" stroke-width="1.3" fill="none"/><rect x="456.85" y="613.34" width="7.30" height="24.26" fill="#2a52a6" stroke="#000" stroke-width="1.40"/>
<path d="M471.50 552.48V543.50M468.80 543.50h5.40" stroke="#000" stroke-width="1.3" fill="none"/><rect x="467.85" y="553.18" width="7.30" height="84.42" fill="#e1271f" stroke="#000" stroke-width="1.40"/>
<text class="st" x="471.6" y="546.5" text-anchor="middle">*</text>
<path d="M482.50 622.59V621.13M479.80 621.13h5.40" stroke="#000" stroke-width="1.3" fill="none"/><rect x="478.85" y="623.29" width="7.30" height="14.31" fill="#5db82e" stroke="#000" stroke-width="1.40"/>
<text class="st" x="482.6" y="624.1" text-anchor="middle">*</text>
<path d="M493.50 607.55V606.33M490.80 606.33h5.40" stroke="#000" stroke-width="1.3" fill="none"/><rect x="489.85" y="608.25" width="7.30" height="29.35" fill="#5b9bd5" stroke="#000" stroke-width="1.40"/>
<text class="hs" x="492.8" y="603.4" text-anchor="middle">#</text>
<text class="xl" transform="translate(479.4 652.4) rotate(-45)" text-anchor="end">Ccl5</text>
<path d="M511.95 612.64V611.91M509.25 611.91h5.40" stroke="#000" stroke-width="1.3" fill="none"/><rect x="508.30" y="613.34" width="7.30" height="24.26" fill="#2a52a6" stroke="#000" stroke-width="1.40"/>
<path d="M522.95 569.46V566.55M520.25 566.55h5.40" stroke="#000" stroke-width="1.3" fill="none"/><rect x="519.30" y="570.16" width="7.30" height="67.44" fill="#e1271f" stroke="#000" stroke-width="1.40"/>
<text class="st" x="523.1" y="570.1" text-anchor="middle">*</text>
<path d="M533.95 625.26V624.28M531.25 624.28h5.40" stroke="#000" stroke-width="1.3" fill="none"/><rect x="530.30" y="625.96" width="7.30" height="11.64" fill="#5db82e" stroke="#000" stroke-width="1.40"/>
<text class="st" x="534.1" y="627.3" text-anchor="middle">*</text>
<path d="M544.95 612.64V608.52M542.25 608.52h5.40" stroke="#000" stroke-width="1.3" fill="none"/><rect x="541.30" y="613.34" width="7.30" height="24.26" fill="#5b9bd5" stroke="#000" stroke-width="1.40"/>
<text class="hs" x="544.2" y="605.6" text-anchor="middle">#</text>
<text class="xl" transform="translate(530.8 652.4) rotate(-45)" text-anchor="end">Cxcl10</text>
<rect x="565.5" y="521.2" width="12.6" height="6.7" fill="#2a52a6" stroke="#000" stroke-width="1.45"/>
<text class="lg" x="585.2" y="527.8">si-NC</text>
<rect x="565.5" y="535.5" width="12.6" height="6.7" fill="#e1271f" stroke="#000" stroke-width="1.45"/>
<text class="lg" x="585.2" y="542.1">si-NC + IFN-γ</text>
<rect x="565.5" y="549.8" width="12.6" height="6.7" fill="#5db82e" stroke="#000" stroke-width="1.45"/>
<text class="lg" x="585.2" y="556.4">si-lnc-Lfar1</text>
<rect x="565.5" y="564.1" width="12.6" height="6.7" fill="#5b9bd5" stroke="#000" stroke-width="1.45"/>
<text class="lg" x="585.2" y="570.7">si-lnc-Lfar1 + IFN-γ</text>
</g>
</svg></body></html>
